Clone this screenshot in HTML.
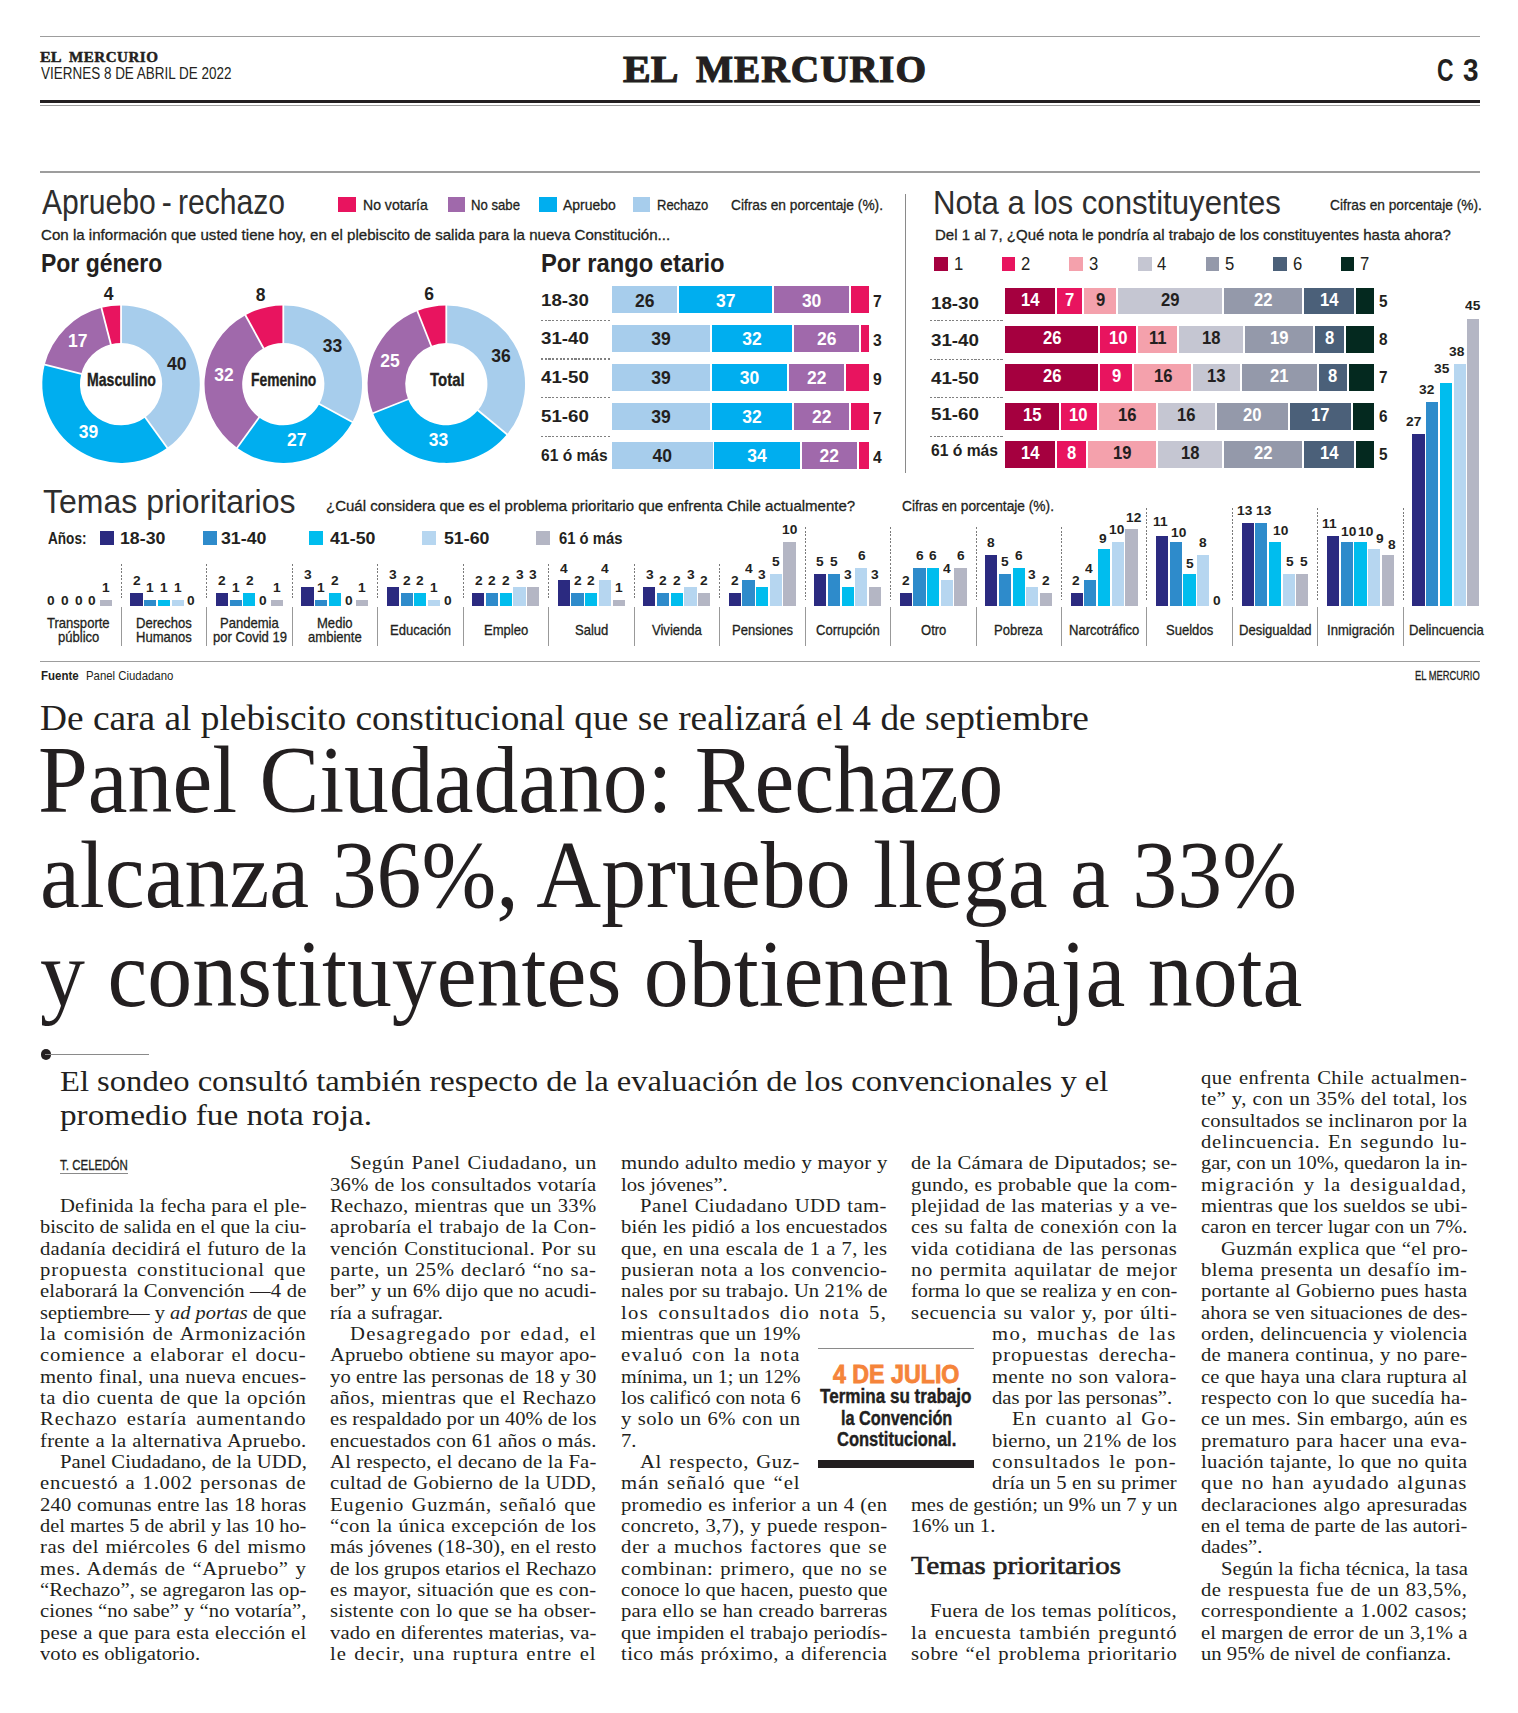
<!DOCTYPE html>
<html><head><meta charset="utf-8"><style>
html,body{margin:0;padding:0;background:#fff;}
body{width:1518px;height:1713px;position:relative;overflow:hidden;}
.t{position:absolute;white-space:nowrap;line-height:1;transform-origin:0 0;}
</style></head><body>
<div style="position:absolute;left:40.00px;top:35.90px;width:1440.00px;height:1.30px;background:#9d9d9d;"></div><div style="position:absolute;left:40.00px;top:100.00px;width:1440.00px;height:2.80px;background:#231f20;"></div><div style="position:absolute;left:40.00px;top:104.80px;width:1440.00px;height:1.30px;background:#9d9d9d;"></div><div style="position:absolute;left:40.55px;top:1049.25px;width:10.5px;height:10.5px;border-radius:50%;background:#231f20"></div><div style="position:absolute;left:45.00px;top:1054.00px;width:104.00px;height:1.00px;background:#8a8a8a;"></div><div style="position:absolute;left:60.00px;top:1173.30px;width:67.80px;height:1.00px;background:#8a8a8a;"></div><div style="position:absolute;left:818.30px;top:1348.00px;width:155.70px;height:1.00px;background:#8a8a8a;"></div><div style="position:absolute;left:818.30px;top:1460.10px;width:155.70px;height:7.90px;background:#231f20;"></div><div style="position:absolute;left:40.00px;top:171.30px;width:1440.00px;height:1.30px;background:#9d9d9d;"></div><div style="position:absolute;left:905.20px;top:194.00px;width:1.00px;height:279.00px;background:#8a8a8a;"></div><div style="position:absolute;left:338.30px;top:196.90px;width:17.40px;height:15.40px;background:#e8145f;"></div><div style="position:absolute;left:447.60px;top:196.90px;width:17.20px;height:15.40px;background:#a069ab;"></div><div style="position:absolute;left:539.00px;top:196.90px;width:17.70px;height:15.40px;background:#00aeef;"></div><div style="position:absolute;left:633.10px;top:196.90px;width:17.10px;height:15.40px;background:#a7cdec;"></div><svg style="position:absolute;left:0;top:0" width="1518" height="700"><path d="M121.05,305.40 A78.75,78.75 0 0 1 167.34,447.86 L145.21,417.40 A41.1,41.1 0 0 0 121.05,343.05 Z" fill="#a7cdec"/><path d="M167.34,447.86 A78.75,78.75 0 0 1 44.77,364.57 L81.24,373.93 A41.1,41.1 0 0 0 145.21,417.40 Z" fill="#00aeef"/><path d="M44.77,364.57 A78.75,78.75 0 0 1 101.47,307.87 L110.83,344.34 A41.1,41.1 0 0 0 81.24,373.93 Z" fill="#a069ab"/><path d="M101.47,307.87 A78.75,78.75 0 0 1 121.05,305.40 L121.05,343.05 A41.1,41.1 0 0 0 110.83,344.34 Z" fill="#e8145f"/><line x1="121.05" y1="347.16" x2="121.05" y2="304.40" stroke="#fff" stroke-width="1.8"/><line x1="142.79" y1="414.08" x2="167.93" y2="448.67" stroke="#fff" stroke-width="1.8"/><line x1="85.22" y1="374.95" x2="43.81" y2="364.32" stroke="#fff" stroke-width="1.8"/><line x1="111.85" y1="348.32" x2="101.22" y2="306.91" stroke="#fff" stroke-width="1.8"/><path d="M283.30,305.40 A78.75,78.75 0 0 1 352.31,422.09 L319.32,403.95 A41.1,41.1 0 0 0 283.30,343.05 Z" fill="#a7cdec"/><path d="M352.31,422.09 A78.75,78.75 0 0 1 237.01,447.86 L259.14,417.40 A41.1,41.1 0 0 0 319.32,403.95 Z" fill="#00aeef"/><path d="M237.01,447.86 A78.75,78.75 0 0 1 245.36,315.14 L263.50,348.13 A41.1,41.1 0 0 0 259.14,417.40 Z" fill="#a069ab"/><path d="M245.36,315.14 A78.75,78.75 0 0 1 283.30,305.40 L283.30,343.05 A41.1,41.1 0 0 0 263.50,348.13 Z" fill="#e8145f"/><line x1="283.30" y1="347.16" x2="283.30" y2="304.40" stroke="#fff" stroke-width="1.8"/><line x1="315.71" y1="401.97" x2="353.19" y2="422.57" stroke="#fff" stroke-width="1.8"/><line x1="261.56" y1="414.08" x2="236.42" y2="448.67" stroke="#fff" stroke-width="1.8"/><line x1="265.48" y1="351.74" x2="244.88" y2="314.26" stroke="#fff" stroke-width="1.8"/><path d="M446.30,305.40 A78.75,78.75 0 0 1 506.98,434.35 L477.97,410.35 A41.1,41.1 0 0 0 446.30,343.05 Z" fill="#a7cdec"/><path d="M506.98,434.35 A78.75,78.75 0 0 1 373.08,413.14 L408.09,399.28 A41.1,41.1 0 0 0 477.97,410.35 Z" fill="#00aeef"/><path d="M373.08,413.14 A78.75,78.75 0 0 1 417.31,310.93 L431.17,345.94 A41.1,41.1 0 0 0 408.09,399.28 Z" fill="#a069ab"/><path d="M417.31,310.93 A78.75,78.75 0 0 1 446.30,305.40 L446.30,343.05 A41.1,41.1 0 0 0 431.17,345.94 Z" fill="#e8145f"/><line x1="446.30" y1="347.16" x2="446.30" y2="304.40" stroke="#fff" stroke-width="1.8"/><line x1="474.80" y1="407.73" x2="507.75" y2="434.98" stroke="#fff" stroke-width="1.8"/><line x1="411.91" y1="397.77" x2="372.15" y2="413.51" stroke="#fff" stroke-width="1.8"/><line x1="432.68" y1="349.76" x2="416.94" y2="310.00" stroke="#fff" stroke-width="1.8"/></svg><div style="position:absolute;left:612.10px;top:286.40px;width:65.31px;height:27.00px;background:#a7cdec;"></div><div style="position:absolute;left:679.21px;top:286.40px;width:92.94px;height:27.00px;background:#00aeef;"></div><div style="position:absolute;left:773.96px;top:286.40px;width:75.36px;height:27.00px;background:#a069ab;"></div><div style="position:absolute;left:851.12px;top:286.40px;width:17.58px;height:27.00px;background:#e8145f;"></div><div style="position:absolute;left:612.10px;top:325.20px;width:97.97px;height:27.00px;background:#a7cdec;"></div><div style="position:absolute;left:711.87px;top:325.20px;width:80.38px;height:27.00px;background:#00aeef;"></div><div style="position:absolute;left:794.05px;top:325.20px;width:65.31px;height:27.00px;background:#a069ab;"></div><div style="position:absolute;left:861.16px;top:325.20px;width:7.54px;height:27.00px;background:#e8145f;"></div><div style="position:absolute;left:612.10px;top:364.00px;width:97.97px;height:27.00px;background:#a7cdec;"></div><div style="position:absolute;left:711.87px;top:364.00px;width:75.36px;height:27.00px;background:#00aeef;"></div><div style="position:absolute;left:789.03px;top:364.00px;width:55.26px;height:27.00px;background:#a069ab;"></div><div style="position:absolute;left:846.09px;top:364.00px;width:22.61px;height:27.00px;background:#e8145f;"></div><div style="position:absolute;left:612.10px;top:402.80px;width:97.97px;height:27.00px;background:#a7cdec;"></div><div style="position:absolute;left:711.87px;top:402.80px;width:80.38px;height:27.00px;background:#00aeef;"></div><div style="position:absolute;left:794.05px;top:402.80px;width:55.26px;height:27.00px;background:#a069ab;"></div><div style="position:absolute;left:851.12px;top:402.80px;width:17.58px;height:27.00px;background:#e8145f;"></div><div style="position:absolute;left:612.10px;top:441.60px;width:100.48px;height:27.00px;background:#a7cdec;"></div><div style="position:absolute;left:714.38px;top:441.60px;width:85.41px;height:27.00px;background:#00aeef;"></div><div style="position:absolute;left:801.59px;top:441.60px;width:55.26px;height:27.00px;background:#a069ab;"></div><div style="position:absolute;left:858.65px;top:441.60px;width:10.05px;height:27.00px;background:#e8145f;"></div><div style="position:absolute;left:541.3px;top:319.6px;width:69.3px;height:1.2px;background:repeating-linear-gradient(90deg,#808080 0 2.2px,transparent 2.2px 3.7px)"></div><div style="position:absolute;left:541.3px;top:358.4px;width:69.3px;height:1.2px;background:repeating-linear-gradient(90deg,#808080 0 2.2px,transparent 2.2px 3.7px)"></div><div style="position:absolute;left:541.3px;top:397.2px;width:69.3px;height:1.2px;background:repeating-linear-gradient(90deg,#808080 0 2.2px,transparent 2.2px 3.7px)"></div><div style="position:absolute;left:541.3px;top:436.0px;width:69.3px;height:1.2px;background:repeating-linear-gradient(90deg,#808080 0 2.2px,transparent 2.2px 3.7px)"></div><div style="position:absolute;left:934.20px;top:257.00px;width:13.60px;height:13.90px;background:#a5003f;"></div><div style="position:absolute;left:1001.60px;top:257.00px;width:13.60px;height:13.90px;background:#e8145f;"></div><div style="position:absolute;left:1069.20px;top:257.00px;width:13.60px;height:13.90px;background:#f4a1ac;"></div><div style="position:absolute;left:1138.20px;top:257.00px;width:13.60px;height:13.90px;background:#c5c6d2;"></div><div style="position:absolute;left:1205.50px;top:257.00px;width:13.60px;height:13.90px;background:#9499aa;"></div><div style="position:absolute;left:1273.20px;top:257.00px;width:13.60px;height:13.90px;background:#4b6079;"></div><div style="position:absolute;left:1340.60px;top:257.00px;width:13.60px;height:13.90px;background:#04291f;"></div><div style="position:absolute;left:1005.40px;top:287.70px;width:49.94px;height:26.70px;background:#a5003f;"></div><div style="position:absolute;left:1057.34px;top:287.70px;width:24.97px;height:26.70px;background:#e8145f;"></div><div style="position:absolute;left:1084.31px;top:287.70px;width:32.10px;height:26.70px;background:#f4a1ac;"></div><div style="position:absolute;left:1118.41px;top:287.70px;width:103.44px;height:26.70px;background:#c5c6d2;"></div><div style="position:absolute;left:1223.85px;top:287.70px;width:78.47px;height:26.70px;background:#9499aa;"></div><div style="position:absolute;left:1304.33px;top:287.70px;width:49.94px;height:26.70px;background:#4b6079;"></div><div style="position:absolute;left:1356.26px;top:287.70px;width:17.84px;height:26.70px;background:#04291f;"></div><div style="position:absolute;left:1005.40px;top:326.30px;width:92.74px;height:26.70px;background:#a5003f;"></div><div style="position:absolute;left:1100.14px;top:326.30px;width:35.67px;height:26.70px;background:#e8145f;"></div><div style="position:absolute;left:1137.81px;top:326.30px;width:39.24px;height:26.70px;background:#f4a1ac;"></div><div style="position:absolute;left:1179.05px;top:326.30px;width:64.21px;height:26.70px;background:#c5c6d2;"></div><div style="position:absolute;left:1245.25px;top:326.30px;width:67.77px;height:26.70px;background:#9499aa;"></div><div style="position:absolute;left:1315.03px;top:326.30px;width:28.54px;height:26.70px;background:#4b6079;"></div><div style="position:absolute;left:1345.56px;top:326.30px;width:28.54px;height:26.70px;background:#04291f;"></div><div style="position:absolute;left:1005.40px;top:364.20px;width:92.74px;height:26.70px;background:#a5003f;"></div><div style="position:absolute;left:1100.14px;top:364.20px;width:32.10px;height:26.70px;background:#e8145f;"></div><div style="position:absolute;left:1134.24px;top:364.20px;width:57.07px;height:26.70px;background:#f4a1ac;"></div><div style="position:absolute;left:1193.32px;top:364.20px;width:46.37px;height:26.70px;background:#c5c6d2;"></div><div style="position:absolute;left:1241.69px;top:364.20px;width:74.91px;height:26.70px;background:#9499aa;"></div><div style="position:absolute;left:1318.60px;top:364.20px;width:28.54px;height:26.70px;background:#4b6079;"></div><div style="position:absolute;left:1349.13px;top:364.20px;width:24.97px;height:26.70px;background:#04291f;"></div><div style="position:absolute;left:1005.40px;top:403.00px;width:53.50px;height:26.70px;background:#a5003f;"></div><div style="position:absolute;left:1060.90px;top:403.00px;width:35.67px;height:26.70px;background:#e8145f;"></div><div style="position:absolute;left:1098.58px;top:403.00px;width:57.07px;height:26.70px;background:#f4a1ac;"></div><div style="position:absolute;left:1157.65px;top:403.00px;width:57.07px;height:26.70px;background:#c5c6d2;"></div><div style="position:absolute;left:1216.72px;top:403.00px;width:71.34px;height:26.70px;background:#9499aa;"></div><div style="position:absolute;left:1290.06px;top:403.00px;width:60.64px;height:26.70px;background:#4b6079;"></div><div style="position:absolute;left:1352.70px;top:403.00px;width:21.40px;height:26.70px;background:#04291f;"></div><div style="position:absolute;left:1005.40px;top:440.90px;width:49.94px;height:26.70px;background:#a5003f;"></div><div style="position:absolute;left:1057.34px;top:440.90px;width:28.54px;height:26.70px;background:#e8145f;"></div><div style="position:absolute;left:1087.87px;top:440.90px;width:67.77px;height:26.70px;background:#f4a1ac;"></div><div style="position:absolute;left:1157.65px;top:440.90px;width:64.21px;height:26.70px;background:#c5c6d2;"></div><div style="position:absolute;left:1223.85px;top:440.90px;width:78.47px;height:26.70px;background:#9499aa;"></div><div style="position:absolute;left:1304.33px;top:440.90px;width:49.94px;height:26.70px;background:#4b6079;"></div><div style="position:absolute;left:1356.26px;top:440.90px;width:17.84px;height:26.70px;background:#04291f;"></div><div style="position:absolute;left:929.5px;top:319.6px;width:74.3px;height:1.2px;background:repeating-linear-gradient(90deg,#808080 0 2.2px,transparent 2.2px 3.7px)"></div><div style="position:absolute;left:929.5px;top:358.5px;width:74.3px;height:1.2px;background:repeating-linear-gradient(90deg,#808080 0 2.2px,transparent 2.2px 3.7px)"></div><div style="position:absolute;left:929.5px;top:397.2px;width:74.3px;height:1.2px;background:repeating-linear-gradient(90deg,#808080 0 2.2px,transparent 2.2px 3.7px)"></div><div style="position:absolute;left:929.5px;top:435.8px;width:74.3px;height:1.2px;background:repeating-linear-gradient(90deg,#808080 0 2.2px,transparent 2.2px 3.7px)"></div><div style="position:absolute;left:100.20px;top:531.10px;width:14.00px;height:13.80px;background:#2b2a80;"></div><div style="position:absolute;left:203.00px;top:531.10px;width:14.00px;height:13.80px;background:#2e8bcb;"></div><div style="position:absolute;left:309.30px;top:531.10px;width:14.00px;height:13.80px;background:#00bdee;"></div><div style="position:absolute;left:421.80px;top:531.10px;width:14.00px;height:13.80px;background:#b6d6f0;"></div><div style="position:absolute;left:536.30px;top:531.10px;width:14.00px;height:13.80px;background:#b4b6c4;"></div><div style="position:absolute;left:99.73px;top:599.62px;width:12.20px;height:6.38px;background:#b4b6c4;"></div><div style="position:absolute;left:130.40px;top:593.24px;width:12.20px;height:12.76px;background:#2b2a80;"></div><div style="position:absolute;left:144.10px;top:599.62px;width:12.20px;height:6.38px;background:#2e8bcb;"></div><div style="position:absolute;left:157.80px;top:599.62px;width:12.20px;height:6.38px;background:#00bdee;"></div><div style="position:absolute;left:171.50px;top:599.62px;width:12.20px;height:6.38px;background:#b6d6f0;"></div><div style="position:absolute;left:121px;top:564px;width:1px;height:36px;background:repeating-linear-gradient(180deg,#7a7a7a 0 2px,transparent 2px 3.6px)"></div><div style="position:absolute;left:121.00px;top:607.00px;width:1.00px;height:39.00px;background:#999;"></div><div style="position:absolute;left:215.87px;top:593.24px;width:12.20px;height:12.76px;background:#2b2a80;"></div><div style="position:absolute;left:229.57px;top:599.62px;width:12.20px;height:6.38px;background:#2e8bcb;"></div><div style="position:absolute;left:243.27px;top:593.24px;width:12.20px;height:12.76px;background:#00bdee;"></div><div style="position:absolute;left:270.67px;top:599.62px;width:12.20px;height:6.38px;background:#b4b6c4;"></div><div style="position:absolute;left:206px;top:564px;width:1px;height:36px;background:repeating-linear-gradient(180deg,#7a7a7a 0 2px,transparent 2px 3.6px)"></div><div style="position:absolute;left:206.00px;top:607.00px;width:1.00px;height:39.00px;background:#999;"></div><div style="position:absolute;left:301.34px;top:586.86px;width:12.20px;height:19.14px;background:#2b2a80;"></div><div style="position:absolute;left:315.04px;top:599.62px;width:12.20px;height:6.38px;background:#2e8bcb;"></div><div style="position:absolute;left:328.74px;top:593.24px;width:12.20px;height:12.76px;background:#00bdee;"></div><div style="position:absolute;left:356.14px;top:599.62px;width:12.20px;height:6.38px;background:#b4b6c4;"></div><div style="position:absolute;left:292px;top:564px;width:1px;height:36px;background:repeating-linear-gradient(180deg,#7a7a7a 0 2px,transparent 2px 3.6px)"></div><div style="position:absolute;left:292.00px;top:607.00px;width:1.00px;height:39.00px;background:#999;"></div><div style="position:absolute;left:386.81px;top:586.86px;width:12.20px;height:19.14px;background:#2b2a80;"></div><div style="position:absolute;left:400.51px;top:593.24px;width:12.20px;height:12.76px;background:#2e8bcb;"></div><div style="position:absolute;left:414.21px;top:593.24px;width:12.20px;height:12.76px;background:#00bdee;"></div><div style="position:absolute;left:427.91px;top:599.62px;width:12.20px;height:6.38px;background:#b6d6f0;"></div><div style="position:absolute;left:377px;top:564px;width:1px;height:36px;background:repeating-linear-gradient(180deg,#7a7a7a 0 2px,transparent 2px 3.6px)"></div><div style="position:absolute;left:377.00px;top:607.00px;width:1.00px;height:39.00px;background:#999;"></div><div style="position:absolute;left:472.28px;top:593.24px;width:12.20px;height:12.76px;background:#2b2a80;"></div><div style="position:absolute;left:485.98px;top:593.24px;width:12.20px;height:12.76px;background:#2e8bcb;"></div><div style="position:absolute;left:499.68px;top:593.24px;width:12.20px;height:12.76px;background:#00bdee;"></div><div style="position:absolute;left:513.38px;top:586.86px;width:12.20px;height:19.14px;background:#b6d6f0;"></div><div style="position:absolute;left:527.08px;top:586.86px;width:12.20px;height:19.14px;background:#b4b6c4;"></div><div style="position:absolute;left:463px;top:564px;width:1px;height:36px;background:repeating-linear-gradient(180deg,#7a7a7a 0 2px,transparent 2px 3.6px)"></div><div style="position:absolute;left:463.00px;top:607.00px;width:1.00px;height:39.00px;background:#999;"></div><div style="position:absolute;left:557.75px;top:580.48px;width:12.20px;height:25.52px;background:#2b2a80;"></div><div style="position:absolute;left:571.45px;top:593.24px;width:12.20px;height:12.76px;background:#2e8bcb;"></div><div style="position:absolute;left:585.15px;top:593.24px;width:12.20px;height:12.76px;background:#00bdee;"></div><div style="position:absolute;left:598.85px;top:580.48px;width:12.20px;height:25.52px;background:#b6d6f0;"></div><div style="position:absolute;left:612.55px;top:599.62px;width:12.20px;height:6.38px;background:#b4b6c4;"></div><div style="position:absolute;left:548px;top:564px;width:1px;height:36px;background:repeating-linear-gradient(180deg,#7a7a7a 0 2px,transparent 2px 3.6px)"></div><div style="position:absolute;left:548.00px;top:607.00px;width:1.00px;height:39.00px;background:#999;"></div><div style="position:absolute;left:643.22px;top:586.86px;width:12.20px;height:19.14px;background:#2b2a80;"></div><div style="position:absolute;left:656.92px;top:593.24px;width:12.20px;height:12.76px;background:#2e8bcb;"></div><div style="position:absolute;left:670.62px;top:593.24px;width:12.20px;height:12.76px;background:#00bdee;"></div><div style="position:absolute;left:684.32px;top:586.86px;width:12.20px;height:19.14px;background:#b6d6f0;"></div><div style="position:absolute;left:698.02px;top:593.24px;width:12.20px;height:12.76px;background:#b4b6c4;"></div><div style="position:absolute;left:634px;top:564px;width:1px;height:36px;background:repeating-linear-gradient(180deg,#7a7a7a 0 2px,transparent 2px 3.6px)"></div><div style="position:absolute;left:634.00px;top:607.00px;width:1.00px;height:39.00px;background:#999;"></div><div style="position:absolute;left:728.69px;top:593.24px;width:12.20px;height:12.76px;background:#2b2a80;"></div><div style="position:absolute;left:742.39px;top:580.48px;width:12.20px;height:25.52px;background:#2e8bcb;"></div><div style="position:absolute;left:756.09px;top:586.86px;width:12.20px;height:19.14px;background:#00bdee;"></div><div style="position:absolute;left:769.79px;top:574.10px;width:12.20px;height:31.90px;background:#b6d6f0;"></div><div style="position:absolute;left:783.49px;top:542.20px;width:12.20px;height:63.80px;background:#b4b6c4;"></div><div style="position:absolute;left:719px;top:564px;width:1px;height:36px;background:repeating-linear-gradient(180deg,#7a7a7a 0 2px,transparent 2px 3.6px)"></div><div style="position:absolute;left:719.00px;top:607.00px;width:1.00px;height:39.00px;background:#999;"></div><div style="position:absolute;left:814.16px;top:574.10px;width:12.20px;height:31.90px;background:#2b2a80;"></div><div style="position:absolute;left:827.86px;top:574.10px;width:12.20px;height:31.90px;background:#2e8bcb;"></div><div style="position:absolute;left:841.56px;top:586.86px;width:12.20px;height:19.14px;background:#00bdee;"></div><div style="position:absolute;left:855.26px;top:567.72px;width:12.20px;height:38.28px;background:#b6d6f0;"></div><div style="position:absolute;left:868.96px;top:586.86px;width:12.20px;height:19.14px;background:#b4b6c4;"></div><div style="position:absolute;left:805px;top:527px;width:1px;height:73px;background:repeating-linear-gradient(180deg,#7a7a7a 0 2px,transparent 2px 3.6px)"></div><div style="position:absolute;left:805.00px;top:607.00px;width:1.00px;height:39.00px;background:#999;"></div><div style="position:absolute;left:899.63px;top:593.24px;width:12.20px;height:12.76px;background:#2b2a80;"></div><div style="position:absolute;left:913.33px;top:567.72px;width:12.20px;height:38.28px;background:#2e8bcb;"></div><div style="position:absolute;left:927.03px;top:567.72px;width:12.20px;height:38.28px;background:#00bdee;"></div><div style="position:absolute;left:940.73px;top:580.48px;width:12.20px;height:25.52px;background:#b6d6f0;"></div><div style="position:absolute;left:954.43px;top:567.72px;width:12.20px;height:38.28px;background:#b4b6c4;"></div><div style="position:absolute;left:890px;top:527px;width:1px;height:73px;background:repeating-linear-gradient(180deg,#7a7a7a 0 2px,transparent 2px 3.6px)"></div><div style="position:absolute;left:890.00px;top:607.00px;width:1.00px;height:39.00px;background:#999;"></div><div style="position:absolute;left:985.10px;top:554.96px;width:12.20px;height:51.04px;background:#2b2a80;"></div><div style="position:absolute;left:998.80px;top:574.10px;width:12.20px;height:31.90px;background:#2e8bcb;"></div><div style="position:absolute;left:1012.50px;top:567.72px;width:12.20px;height:38.28px;background:#00bdee;"></div><div style="position:absolute;left:1026.20px;top:586.86px;width:12.20px;height:19.14px;background:#b6d6f0;"></div><div style="position:absolute;left:1039.90px;top:593.24px;width:12.20px;height:12.76px;background:#b4b6c4;"></div><div style="position:absolute;left:976px;top:527px;width:1px;height:73px;background:repeating-linear-gradient(180deg,#7a7a7a 0 2px,transparent 2px 3.6px)"></div><div style="position:absolute;left:976.00px;top:607.00px;width:1.00px;height:39.00px;background:#999;"></div><div style="position:absolute;left:1070.57px;top:593.24px;width:12.20px;height:12.76px;background:#2b2a80;"></div><div style="position:absolute;left:1084.27px;top:580.48px;width:12.20px;height:25.52px;background:#2e8bcb;"></div><div style="position:absolute;left:1097.97px;top:548.58px;width:12.20px;height:57.42px;background:#00bdee;"></div><div style="position:absolute;left:1111.67px;top:542.20px;width:12.20px;height:63.80px;background:#b6d6f0;"></div><div style="position:absolute;left:1125.37px;top:529.44px;width:12.20px;height:76.56px;background:#b4b6c4;"></div><div style="position:absolute;left:1061px;top:527px;width:1px;height:73px;background:repeating-linear-gradient(180deg,#7a7a7a 0 2px,transparent 2px 3.6px)"></div><div style="position:absolute;left:1061.00px;top:607.00px;width:1.00px;height:39.00px;background:#999;"></div><div style="position:absolute;left:1156.04px;top:535.82px;width:12.20px;height:70.18px;background:#2b2a80;"></div><div style="position:absolute;left:1169.74px;top:542.20px;width:12.20px;height:63.80px;background:#2e8bcb;"></div><div style="position:absolute;left:1183.44px;top:574.10px;width:12.20px;height:31.90px;background:#00bdee;"></div><div style="position:absolute;left:1197.14px;top:554.96px;width:12.20px;height:51.04px;background:#b6d6f0;"></div><div style="position:absolute;left:1146px;top:508px;width:1px;height:92px;background:repeating-linear-gradient(180deg,#7a7a7a 0 2px,transparent 2px 3.6px)"></div><div style="position:absolute;left:1146.00px;top:607.00px;width:1.00px;height:39.00px;background:#999;"></div><div style="position:absolute;left:1241.51px;top:523.06px;width:12.20px;height:82.94px;background:#2b2a80;"></div><div style="position:absolute;left:1255.21px;top:523.06px;width:12.20px;height:82.94px;background:#2e8bcb;"></div><div style="position:absolute;left:1268.91px;top:542.20px;width:12.20px;height:63.80px;background:#00bdee;"></div><div style="position:absolute;left:1282.61px;top:574.10px;width:12.20px;height:31.90px;background:#b6d6f0;"></div><div style="position:absolute;left:1296.31px;top:574.10px;width:12.20px;height:31.90px;background:#b4b6c4;"></div><div style="position:absolute;left:1232px;top:508px;width:1px;height:92px;background:repeating-linear-gradient(180deg,#7a7a7a 0 2px,transparent 2px 3.6px)"></div><div style="position:absolute;left:1232.00px;top:607.00px;width:1.00px;height:39.00px;background:#999;"></div><div style="position:absolute;left:1326.98px;top:535.82px;width:12.20px;height:70.18px;background:#2b2a80;"></div><div style="position:absolute;left:1340.68px;top:542.20px;width:12.20px;height:63.80px;background:#2e8bcb;"></div><div style="position:absolute;left:1354.38px;top:542.20px;width:12.20px;height:63.80px;background:#00bdee;"></div><div style="position:absolute;left:1368.08px;top:548.58px;width:12.20px;height:57.42px;background:#b6d6f0;"></div><div style="position:absolute;left:1381.78px;top:554.96px;width:12.20px;height:51.04px;background:#b4b6c4;"></div><div style="position:absolute;left:1317px;top:508px;width:1px;height:92px;background:repeating-linear-gradient(180deg,#7a7a7a 0 2px,transparent 2px 3.6px)"></div><div style="position:absolute;left:1317.00px;top:607.00px;width:1.00px;height:39.00px;background:#999;"></div><div style="position:absolute;left:1412.45px;top:433.74px;width:12.20px;height:172.26px;background:#2b2a80;"></div><div style="position:absolute;left:1426.15px;top:401.84px;width:12.20px;height:204.16px;background:#2e8bcb;"></div><div style="position:absolute;left:1439.85px;top:382.70px;width:12.20px;height:223.30px;background:#00bdee;"></div><div style="position:absolute;left:1453.55px;top:363.56px;width:12.20px;height:242.44px;background:#b6d6f0;"></div><div style="position:absolute;left:1467.25px;top:318.90px;width:12.20px;height:287.10px;background:#b4b6c4;"></div><div style="position:absolute;left:1403px;top:508px;width:1px;height:92px;background:repeating-linear-gradient(180deg,#7a7a7a 0 2px,transparent 2px 3.6px)"></div><div style="position:absolute;left:1403.00px;top:607.00px;width:1.00px;height:39.00px;background:#999;"></div><div style="position:absolute;left:40.00px;top:661.00px;width:1440.00px;height:1.30px;background:#9d9d9d;"></div>
<div class="t" style="left:40.30px;top:50.01px;font-family:'Liberation Serif', serif;font-size:14.2px;font-weight:700;color:#231f20;-webkit-text-stroke:0.45px #231f20;transform:scaleX(1.1353);">EL</div><div class="t" style="left:68.50px;top:50.01px;font-family:'Liberation Serif', serif;font-size:14.2px;font-weight:700;color:#231f20;-webkit-text-stroke:0.45px #231f20;letter-spacing:0.5px;transform:scaleX(1.0603);">MERCURIO</div><div class="t" style="left:41.00px;top:65.85px;font-family:'Liberation Sans', sans-serif;font-size:16px;font-weight:400;color:#231f20;transform:scaleX(0.8422);">VIERNES 8 DE ABRIL DE 2022</div><div class="t" style="left:623.00px;top:50.52px;font-family:'Liberation Serif', serif;font-size:37px;font-weight:700;color:#231f20;-webkit-text-stroke:1.1px #231f20;transform:scaleX(1.1224);">EL</div><div class="t" style="left:695.70px;top:50.52px;font-family:'Liberation Serif', serif;font-size:37px;font-weight:700;color:#231f20;-webkit-text-stroke:1.1px #231f20;letter-spacing:1px;transform:scaleX(1.0612);">MERCURIO</div><div class="t" style="left:1437.20px;top:53.61px;font-family:'Liberation Sans', sans-serif;font-size:32px;font-weight:700;color:#231f20;transform:scaleX(0.7140);">C</div><div class="t" style="left:1462.90px;top:53.61px;font-family:'Liberation Sans', sans-serif;font-size:32px;font-weight:700;color:#231f20;transform:scaleX(0.8709);">3</div><div class="t" style="left:40.00px;top:700.35px;font-family:'Liberation Serif', serif;font-size:36px;font-weight:400;color:#231f20;transform:scaleX(1.0380);">De cara al plebiscito constitucional que se realizará el 4 de septiembre</div><div class="t" style="left:38.40px;top:733.35px;font-family:'Liberation Serif', serif;font-size:95px;font-weight:400;color:#231f20;transform:scaleX(0.9430);">Panel Ciudadano: Rechazo</div><div class="t" style="left:39.60px;top:828.45px;font-family:'Liberation Serif', serif;font-size:95px;font-weight:400;color:#231f20;transform:scaleX(0.9455);">alcanza 36%, Apruebo llega a 33%</div><div class="t" style="left:40.00px;top:926.65px;font-family:'Liberation Serif', serif;font-size:95px;font-weight:400;color:#231f20;transform:scaleX(0.9457);">y constituyentes obtienen baja nota</div><div class="t" style="left:59.60px;top:1067.15px;font-family:'Liberation Serif', serif;font-size:29.2px;font-weight:400;color:#231f20;transform:scaleX(1.1170);">El sondeo consultó también respecto de la evaluación de los convencionales y el</div><div class="t" style="left:59.80px;top:1101.35px;font-family:'Liberation Serif', serif;font-size:29.2px;font-weight:400;color:#231f20;transform:scaleX(1.1389);">promedio fue nota roja.</div><div class="t" style="left:60.00px;top:1157.69px;font-family:'Liberation Sans', sans-serif;font-size:14.3px;font-weight:400;color:#231f20;-webkit-text-stroke:0.3px #231f20;transform:scaleX(0.8050);">T. CELEDÓN</div><div class="t" style="left:59.50px;top:1196.93px;font-family:'Liberation Serif', serif;font-size:18.8px;font-weight:400;color:#231f20;letter-spacing:0.160px;word-spacing:0.239px;transform:scaleX(1.1000);">Definida la fecha para el ple-</div><div class="t" style="left:40.00px;top:1218.27px;font-family:'Liberation Serif', serif;font-size:18.8px;font-weight:400;color:#231f20;transform:scaleX(1.0845);">biscito de salida en el que la ciu-</div><div class="t" style="left:40.00px;top:1239.61px;font-family:'Liberation Serif', serif;font-size:18.8px;font-weight:400;color:#231f20;letter-spacing:0.227px;word-spacing:0.364px;transform:scaleX(1.1000);">dadanía decidirá el futuro de la</div><div class="t" style="left:40.00px;top:1260.95px;font-family:'Liberation Serif', serif;font-size:18.8px;font-weight:400;color:#231f20;letter-spacing:0.780px;word-spacing:2.729px;transform:scaleX(1.1000);">propuesta constitucional que</div><div class="t" style="left:40.00px;top:1282.29px;font-family:'Liberation Serif', serif;font-size:18.8px;font-weight:400;color:#231f20;letter-spacing:0.092px;word-spacing:0.166px;transform:scaleX(1.1000);">elaborará la Convención —4 de</div><div class="t" style="left:40.00px;top:1303.63px;font-family:'Liberation Serif', serif;font-size:18.8px;font-weight:400;color:#231f20;transform:scaleX(1.0842);">septiembre— y <i>ad portas</i> de que</div><div class="t" style="left:40.00px;top:1324.97px;font-family:'Liberation Serif', serif;font-size:18.8px;font-weight:400;color:#231f20;letter-spacing:0.639px;word-spacing:1.437px;transform:scaleX(1.1000);">la comisión de Armonización</div><div class="t" style="left:40.00px;top:1346.31px;font-family:'Liberation Serif', serif;font-size:18.8px;font-weight:400;color:#231f20;letter-spacing:0.722px;word-spacing:1.264px;transform:scaleX(1.1000);">comience a elaborar el docu-</div><div class="t" style="left:40.00px;top:1367.65px;font-family:'Liberation Serif', serif;font-size:18.8px;font-weight:400;color:#231f20;letter-spacing:0.214px;word-spacing:0.401px;transform:scaleX(1.1000);">mento final, una nueva encues-</div><div class="t" style="left:40.00px;top:1388.99px;font-family:'Liberation Serif', serif;font-size:18.8px;font-weight:400;color:#231f20;letter-spacing:0.478px;word-spacing:0.598px;transform:scaleX(1.1000);">ta dio cuenta de que la opción</div><div class="t" style="left:40.00px;top:1410.32px;font-family:'Liberation Serif', serif;font-size:18.8px;font-weight:400;color:#231f20;letter-spacing:0.841px;word-spacing:2.734px;transform:scaleX(1.1000);">Rechazo estaría aumentando</div><div class="t" style="left:40.00px;top:1431.66px;font-family:'Liberation Serif', serif;font-size:18.8px;font-weight:400;color:#231f20;letter-spacing:0.227px;word-spacing:0.454px;transform:scaleX(1.1000);">frente a la alternativa Apruebo.</div><div class="t" style="left:59.50px;top:1453.00px;font-family:'Liberation Serif', serif;font-size:18.8px;font-weight:400;color:#231f20;letter-spacing:0.036px;word-spacing:0.060px;transform:scaleX(1.1000);">Panel Ciudadano, de la UDD,</div><div class="t" style="left:40.00px;top:1474.34px;font-family:'Liberation Serif', serif;font-size:18.8px;font-weight:400;color:#231f20;letter-spacing:0.676px;word-spacing:1.183px;transform:scaleX(1.1000);">encuestó a 1.002 personas de</div><div class="t" style="left:40.00px;top:1495.68px;font-family:'Liberation Serif', serif;font-size:18.8px;font-weight:400;color:#231f20;letter-spacing:0.157px;word-spacing:0.236px;transform:scaleX(1.1000);">240 comunas entre las 18 horas</div><div class="t" style="left:40.00px;top:1517.02px;font-family:'Liberation Serif', serif;font-size:18.8px;font-weight:400;color:#231f20;transform:scaleX(1.0821);">del martes 5 de abril y las 10 ho-</div><div class="t" style="left:40.00px;top:1538.36px;font-family:'Liberation Serif', serif;font-size:18.8px;font-weight:400;color:#231f20;letter-spacing:0.479px;word-spacing:0.695px;transform:scaleX(1.1000);">ras del miércoles 6 del mismo</div><div class="t" style="left:40.00px;top:1559.70px;font-family:'Liberation Serif', serif;font-size:18.8px;font-weight:400;color:#231f20;letter-spacing:0.567px;word-spacing:0.922px;transform:scaleX(1.1000);">mes. Además de “Apruebo” y</div><div class="t" style="left:40.00px;top:1581.04px;font-family:'Liberation Serif', serif;font-size:18.8px;font-weight:400;color:#231f20;letter-spacing:0.019px;word-spacing:0.037px;transform:scaleX(1.1000);">“Rechazo”, se agregaron las op-</div><div class="t" style="left:40.00px;top:1602.38px;font-family:'Liberation Serif', serif;font-size:18.8px;font-weight:400;color:#231f20;letter-spacing:0.005px;word-spacing:0.009px;transform:scaleX(1.1000);">ciones “no sabe” y “no votaría”,</div><div class="t" style="left:40.00px;top:1623.71px;font-family:'Liberation Serif', serif;font-size:18.8px;font-weight:400;color:#231f20;letter-spacing:0.189px;word-spacing:0.251px;transform:scaleX(1.1000);">pese a que para esta elección el</div><div class="t" style="left:40.00px;top:1645.05px;font-family:'Liberation Serif', serif;font-size:18.8px;font-weight:400;color:#231f20;transform:scaleX(1.1000);">voto es obligatorio.</div><div class="t" style="left:349.80px;top:1154.26px;font-family:'Liberation Serif', serif;font-size:18.8px;font-weight:400;color:#231f20;letter-spacing:0.539px;word-spacing:1.122px;transform:scaleX(1.1000);">Según Panel Ciudadano, un</div><div class="t" style="left:330.30px;top:1175.60px;font-family:'Liberation Serif', serif;font-size:18.8px;font-weight:400;color:#231f20;letter-spacing:0.227px;word-spacing:0.425px;transform:scaleX(1.1000);">36% de los consultados votaría</div><div class="t" style="left:330.30px;top:1196.93px;font-family:'Liberation Serif', serif;font-size:18.8px;font-weight:400;color:#231f20;letter-spacing:0.259px;word-spacing:0.453px;transform:scaleX(1.1000);">Rechazo, mientras que un 33%</div><div class="t" style="left:330.30px;top:1218.27px;font-family:'Liberation Serif', serif;font-size:18.8px;font-weight:400;color:#231f20;letter-spacing:0.342px;word-spacing:0.530px;transform:scaleX(1.1000);">aprobaría el trabajo de la Con-</div><div class="t" style="left:330.30px;top:1239.61px;font-family:'Liberation Serif', serif;font-size:18.8px;font-weight:400;color:#231f20;letter-spacing:0.309px;word-spacing:0.774px;transform:scaleX(1.1000);">vención Constitucional. Por su</div><div class="t" style="left:330.30px;top:1260.95px;font-family:'Liberation Serif', serif;font-size:18.8px;font-weight:400;color:#231f20;letter-spacing:0.524px;word-spacing:0.759px;transform:scaleX(1.1000);">parte, un 25% declaró “no sa-</div><div class="t" style="left:330.30px;top:1282.29px;font-family:'Liberation Serif', serif;font-size:18.8px;font-weight:400;color:#231f20;letter-spacing:0.045px;word-spacing:0.050px;transform:scaleX(1.1000);">ber” y un 6% dijo que no acudi-</div><div class="t" style="left:330.30px;top:1303.63px;font-family:'Liberation Serif', serif;font-size:18.8px;font-weight:400;color:#231f20;transform:scaleX(1.1000);">ría a sufragar.</div><div class="t" style="left:349.80px;top:1324.97px;font-family:'Liberation Serif', serif;font-size:18.8px;font-weight:400;color:#231f20;letter-spacing:1.120px;word-spacing:2.240px;transform:scaleX(1.1000);">Desagregado por edad, el</div><div class="t" style="left:330.30px;top:1346.31px;font-family:'Liberation Serif', serif;font-size:18.8px;font-weight:400;color:#231f20;letter-spacing:0.120px;word-spacing:0.217px;transform:scaleX(1.1000);">Apruebo obtiene su mayor apo-</div><div class="t" style="left:330.30px;top:1367.65px;font-family:'Liberation Serif', serif;font-size:18.8px;font-weight:400;color:#231f20;letter-spacing:0.043px;word-spacing:0.049px;transform:scaleX(1.1000);">yo entre las personas de 18 y 30</div><div class="t" style="left:330.30px;top:1388.99px;font-family:'Liberation Serif', serif;font-size:18.8px;font-weight:400;color:#231f20;letter-spacing:0.394px;word-spacing:0.714px;transform:scaleX(1.1000);">años, mientras que el Rechazo</div><div class="t" style="left:330.30px;top:1410.32px;font-family:'Liberation Serif', serif;font-size:18.8px;font-weight:400;color:#231f20;transform:scaleX(1.0960);">es respaldado por un 40% de los</div><div class="t" style="left:330.30px;top:1431.66px;font-family:'Liberation Serif', serif;font-size:18.8px;font-weight:400;color:#231f20;letter-spacing:0.088px;word-spacing:0.132px;transform:scaleX(1.1000);">encuestados con 61 años o más.</div><div class="t" style="left:330.30px;top:1453.00px;font-family:'Liberation Serif', serif;font-size:18.8px;font-weight:400;color:#231f20;letter-spacing:0.123px;word-spacing:0.163px;transform:scaleX(1.1000);">Al respecto, el decano de la Fa-</div><div class="t" style="left:330.30px;top:1474.34px;font-family:'Liberation Serif', serif;font-size:18.8px;font-weight:400;color:#231f20;letter-spacing:0.206px;word-spacing:0.299px;transform:scaleX(1.1000);">cultad de Gobierno de la UDD,</div><div class="t" style="left:330.30px;top:1495.68px;font-family:'Liberation Serif', serif;font-size:18.8px;font-weight:400;color:#231f20;letter-spacing:0.680px;word-spacing:1.473px;transform:scaleX(1.1000);">Eugenio Guzmán, señaló que</div><div class="t" style="left:330.30px;top:1517.02px;font-family:'Liberation Serif', serif;font-size:18.8px;font-weight:400;color:#231f20;letter-spacing:0.353px;word-spacing:0.530px;transform:scaleX(1.1000);">“con la única excepción de los</div><div class="t" style="left:330.30px;top:1538.36px;font-family:'Liberation Serif', serif;font-size:18.8px;font-weight:400;color:#231f20;letter-spacing:0.056px;word-spacing:0.090px;transform:scaleX(1.1000);">más jóvenes (18-30), en el resto</div><div class="t" style="left:330.30px;top:1559.70px;font-family:'Liberation Serif', serif;font-size:18.8px;font-weight:400;color:#231f20;transform:scaleX(1.0985);">de los grupos etarios el Rechazo</div><div class="t" style="left:330.30px;top:1581.04px;font-family:'Liberation Serif', serif;font-size:18.8px;font-weight:400;color:#231f20;letter-spacing:0.185px;word-spacing:0.287px;transform:scaleX(1.1000);">es mayor, situación que es con-</div><div class="t" style="left:330.30px;top:1602.38px;font-family:'Liberation Serif', serif;font-size:18.8px;font-weight:400;color:#231f20;letter-spacing:0.223px;word-spacing:0.297px;transform:scaleX(1.1000);">sistente con lo que se ha obser-</div><div class="t" style="left:330.30px;top:1623.71px;font-family:'Liberation Serif', serif;font-size:18.8px;font-weight:400;color:#231f20;letter-spacing:0.071px;word-spacing:0.141px;transform:scaleX(1.1000);">vado en diferentes materias, va-</div><div class="t" style="left:330.30px;top:1645.05px;font-family:'Liberation Serif', serif;font-size:18.8px;font-weight:400;color:#231f20;letter-spacing:0.833px;word-spacing:1.249px;transform:scaleX(1.1000);">le decir, una ruptura entre el</div><div class="t" style="left:620.60px;top:1154.26px;font-family:'Liberation Serif', serif;font-size:18.8px;font-weight:400;color:#231f20;letter-spacing:0.168px;word-spacing:0.235px;transform:scaleX(1.1000);">mundo adulto medio y mayor y</div><div class="t" style="left:620.60px;top:1175.60px;font-family:'Liberation Serif', serif;font-size:18.8px;font-weight:400;color:#231f20;transform:scaleX(1.1000);">los jóvenes”.</div><div class="t" style="left:640.10px;top:1196.93px;font-family:'Liberation Serif', serif;font-size:18.8px;font-weight:400;color:#231f20;letter-spacing:0.405px;word-spacing:0.811px;transform:scaleX(1.1000);">Panel Ciudadano UDD tam-</div><div class="t" style="left:620.60px;top:1218.27px;font-family:'Liberation Serif', serif;font-size:18.8px;font-weight:400;color:#231f20;letter-spacing:0.148px;word-spacing:0.236px;transform:scaleX(1.1000);">bién les pidió a los encuestados</div><div class="t" style="left:620.60px;top:1239.61px;font-family:'Liberation Serif', serif;font-size:18.8px;font-weight:400;color:#231f20;letter-spacing:0.292px;word-spacing:0.292px;transform:scaleX(1.1000);">que, en una escala de 1 a 7, les</div><div class="t" style="left:620.60px;top:1260.95px;font-family:'Liberation Serif', serif;font-size:18.8px;font-weight:400;color:#231f20;letter-spacing:0.367px;word-spacing:0.687px;transform:scaleX(1.1000);">pusieran nota a los convencio-</div><div class="t" style="left:620.60px;top:1282.29px;font-family:'Liberation Serif', serif;font-size:18.8px;font-weight:400;color:#231f20;letter-spacing:0.045px;word-spacing:0.058px;transform:scaleX(1.1000);">nales por su trabajo. Un 21% de</div><div class="t" style="left:620.60px;top:1303.63px;font-family:'Liberation Serif', serif;font-size:18.8px;font-weight:400;color:#231f20;letter-spacing:1.255px;word-spacing:2.118px;transform:scaleX(1.1000);">los consultados dio nota 5,</div><div class="t" style="left:620.60px;top:1324.97px;font-family:'Liberation Serif', serif;font-size:18.8px;font-weight:400;color:#231f20;letter-spacing:0.176px;word-spacing:0.279px;transform:scaleX(1.1000);">mientras que un 19%</div><div class="t" style="left:620.60px;top:1346.31px;font-family:'Liberation Serif', serif;font-size:18.8px;font-weight:400;color:#231f20;letter-spacing:1.161px;word-spacing:1.741px;transform:scaleX(1.1000);">evaluó con la nota</div><div class="t" style="left:620.60px;top:1367.65px;font-family:'Liberation Serif', serif;font-size:18.8px;font-weight:400;color:#231f20;transform:scaleX(1.0724);">mínima, un 1; un 12%</div><div class="t" style="left:620.60px;top:1388.99px;font-family:'Liberation Serif', serif;font-size:18.8px;font-weight:400;color:#231f20;transform:scaleX(1.0828);">los calificó con nota 6</div><div class="t" style="left:620.60px;top:1410.32px;font-family:'Liberation Serif', serif;font-size:18.8px;font-weight:400;color:#231f20;letter-spacing:0.394px;word-spacing:0.375px;transform:scaleX(1.1000);">y solo un 6% con un</div><div class="t" style="left:620.60px;top:1431.66px;font-family:'Liberation Serif', serif;font-size:18.8px;font-weight:400;color:#231f20;transform:scaleX(1.1000);">7.</div><div class="t" style="left:640.10px;top:1453.00px;font-family:'Liberation Serif', serif;font-size:18.8px;font-weight:400;color:#231f20;letter-spacing:0.591px;word-spacing:1.256px;transform:scaleX(1.1000);">Al respecto, Guz-</div><div class="t" style="left:620.60px;top:1474.34px;font-family:'Liberation Serif', serif;font-size:18.8px;font-weight:400;color:#231f20;letter-spacing:0.882px;word-spacing:1.323px;transform:scaleX(1.1000);">mán señaló que “el</div><div class="t" style="left:620.60px;top:1495.68px;font-family:'Liberation Serif', serif;font-size:18.8px;font-weight:400;color:#231f20;letter-spacing:0.247px;word-spacing:0.319px;transform:scaleX(1.1000);">promedio es inferior a un 4 (en</div><div class="t" style="left:620.60px;top:1517.02px;font-family:'Liberation Serif', serif;font-size:18.8px;font-weight:400;color:#231f20;letter-spacing:0.234px;word-spacing:0.453px;transform:scaleX(1.1000);">concreto, 3,7), y puede respon-</div><div class="t" style="left:620.60px;top:1538.36px;font-family:'Liberation Serif', serif;font-size:18.8px;font-weight:400;color:#231f20;letter-spacing:0.736px;word-spacing:1.030px;transform:scaleX(1.1000);">der a muchos factores que se</div><div class="t" style="left:620.60px;top:1559.70px;font-family:'Liberation Serif', serif;font-size:18.8px;font-weight:400;color:#231f20;letter-spacing:0.526px;word-spacing:0.921px;transform:scaleX(1.1000);">combinan: primero, que no se</div><div class="t" style="left:620.60px;top:1581.04px;font-family:'Liberation Serif', serif;font-size:18.8px;font-weight:400;color:#231f20;transform:scaleX(1.0962);">conoce lo que hacen, puesto que</div><div class="t" style="left:620.60px;top:1602.38px;font-family:'Liberation Serif', serif;font-size:18.8px;font-weight:400;color:#231f20;letter-spacing:0.124px;word-spacing:0.198px;transform:scaleX(1.1000);">para ello se han creado barreras</div><div class="t" style="left:620.60px;top:1623.71px;font-family:'Liberation Serif', serif;font-size:18.8px;font-weight:400;color:#231f20;letter-spacing:0.056px;word-spacing:0.113px;transform:scaleX(1.1000);">que impiden el trabajo periodís-</div><div class="t" style="left:620.60px;top:1645.05px;font-family:'Liberation Serif', serif;font-size:18.8px;font-weight:400;color:#231f20;letter-spacing:0.353px;word-spacing:0.661px;transform:scaleX(1.1000);">tico más próximo, a diferencia</div><div class="t" style="left:910.60px;top:1154.26px;font-family:'Liberation Serif', serif;font-size:18.8px;font-weight:400;color:#231f20;letter-spacing:0.186px;word-spacing:0.279px;transform:scaleX(1.1000);">de la Cámara de Diputados; se-</div><div class="t" style="left:910.60px;top:1175.60px;font-family:'Liberation Serif', serif;font-size:18.8px;font-weight:400;color:#231f20;letter-spacing:0.172px;word-spacing:0.257px;transform:scaleX(1.1000);">gundo, es probable que la com-</div><div class="t" style="left:910.60px;top:1196.93px;font-family:'Liberation Serif', serif;font-size:18.8px;font-weight:400;color:#231f20;letter-spacing:0.240px;word-spacing:0.320px;transform:scaleX(1.1000);">plejidad de las materias y a ve-</div><div class="t" style="left:910.60px;top:1218.27px;font-family:'Liberation Serif', serif;font-size:18.8px;font-weight:400;color:#231f20;letter-spacing:0.328px;word-spacing:0.424px;transform:scaleX(1.1000);">ces su falta de conexión con la</div><div class="t" style="left:910.60px;top:1239.61px;font-family:'Liberation Serif', serif;font-size:18.8px;font-weight:400;color:#231f20;letter-spacing:0.478px;word-spacing:0.896px;transform:scaleX(1.1000);">vida cotidiana de las personas</div><div class="t" style="left:910.60px;top:1260.95px;font-family:'Liberation Serif', serif;font-size:18.8px;font-weight:400;color:#231f20;letter-spacing:0.552px;word-spacing:1.001px;transform:scaleX(1.1000);">no permita aquilatar de mejor</div><div class="t" style="left:910.60px;top:1282.29px;font-family:'Liberation Serif', serif;font-size:18.8px;font-weight:400;color:#231f20;transform:scaleX(1.0846);">forma lo que se realiza y en con-</div><div class="t" style="left:910.60px;top:1303.63px;font-family:'Liberation Serif', serif;font-size:18.8px;font-weight:400;color:#231f20;letter-spacing:0.547px;word-spacing:0.849px;transform:scaleX(1.1000);">secuencia su valor y, por últi-</div><div class="t" style="left:992.30px;top:1324.97px;font-family:'Liberation Serif', serif;font-size:18.8px;font-weight:400;color:#231f20;letter-spacing:1.372px;word-spacing:1.944px;transform:scaleX(1.1000);">mo, muchas de las</div><div class="t" style="left:992.30px;top:1346.31px;font-family:'Liberation Serif', serif;font-size:18.8px;font-weight:400;color:#231f20;letter-spacing:0.769px;word-spacing:3.651px;transform:scaleX(1.1000);">propuestas derecha-</div><div class="t" style="left:992.30px;top:1367.65px;font-family:'Liberation Serif', serif;font-size:18.8px;font-weight:400;color:#231f20;letter-spacing:0.395px;word-spacing:0.659px;transform:scaleX(1.1000);">mente no son valora-</div><div class="t" style="left:992.30px;top:1388.99px;font-family:'Liberation Serif', serif;font-size:18.8px;font-weight:400;color:#231f20;transform:scaleX(1.1000);">das por las personas”.</div><div class="t" style="left:1011.80px;top:1410.32px;font-family:'Liberation Serif', serif;font-size:18.8px;font-weight:400;color:#231f20;letter-spacing:1.120px;word-spacing:1.493px;transform:scaleX(1.1000);">En cuanto al Go-</div><div class="t" style="left:992.30px;top:1431.66px;font-family:'Liberation Serif', serif;font-size:18.8px;font-weight:400;color:#231f20;letter-spacing:0.137px;word-spacing:0.180px;transform:scaleX(1.1000);">bierno, un 21% de los</div><div class="t" style="left:992.30px;top:1453.00px;font-family:'Liberation Serif', serif;font-size:18.8px;font-weight:400;color:#231f20;letter-spacing:0.920px;word-spacing:2.185px;transform:scaleX(1.1000);">consultados le pon-</div><div class="t" style="left:992.30px;top:1474.34px;font-family:'Liberation Serif', serif;font-size:18.8px;font-weight:400;color:#231f20;letter-spacing:0.093px;word-spacing:0.103px;transform:scaleX(1.1000);">dría un 5 en su primer</div><div class="t" style="left:910.60px;top:1495.68px;font-family:'Liberation Serif', serif;font-size:18.8px;font-weight:400;color:#231f20;transform:scaleX(1.0865);">mes de gestión; un 9% un 7 y un</div><div class="t" style="left:910.60px;top:1517.02px;font-family:'Liberation Serif', serif;font-size:18.8px;font-weight:400;color:#231f20;transform:scaleX(1.1000);">16% un 1.</div><div class="t" style="left:930.10px;top:1602.38px;font-family:'Liberation Serif', serif;font-size:18.8px;font-weight:400;color:#231f20;letter-spacing:0.278px;word-spacing:0.503px;transform:scaleX(1.1000);">Fuera de los temas políticos,</div><div class="t" style="left:910.60px;top:1623.71px;font-family:'Liberation Serif', serif;font-size:18.8px;font-weight:400;color:#231f20;letter-spacing:0.646px;word-spacing:1.508px;transform:scaleX(1.1000);">la encuesta también preguntó</div><div class="t" style="left:910.60px;top:1645.05px;font-family:'Liberation Serif', serif;font-size:18.8px;font-weight:400;color:#231f20;letter-spacing:0.492px;word-spacing:1.230px;transform:scaleX(1.1000);">sobre “el problema prioritario</div><div class="t" style="left:1201.30px;top:1068.90px;font-family:'Liberation Serif', serif;font-size:18.8px;font-weight:400;color:#231f20;letter-spacing:0.423px;word-spacing:1.023px;transform:scaleX(1.1000);">que enfrenta Chile actualmen-</div><div class="t" style="left:1201.30px;top:1090.24px;font-family:'Liberation Serif', serif;font-size:18.8px;font-weight:400;color:#231f20;letter-spacing:0.282px;word-spacing:0.323px;transform:scaleX(1.1000);">te” y, con un 35% del total, los</div><div class="t" style="left:1201.30px;top:1111.58px;font-family:'Liberation Serif', serif;font-size:18.8px;font-weight:400;color:#231f20;letter-spacing:0.108px;word-spacing:0.217px;transform:scaleX(1.1000);">consultados se inclinaron por la</div><div class="t" style="left:1201.30px;top:1132.92px;font-family:'Liberation Serif', serif;font-size:18.8px;font-weight:400;color:#231f20;letter-spacing:0.690px;word-spacing:1.611px;transform:scaleX(1.1000);">delincuencia. En segundo lu-</div><div class="t" style="left:1201.30px;top:1154.26px;font-family:'Liberation Serif', serif;font-size:18.8px;font-weight:400;color:#231f20;transform:scaleX(1.0855);">gar, con un 10%, quedaron la in-</div><div class="t" style="left:1201.30px;top:1175.60px;font-family:'Liberation Serif', serif;font-size:18.8px;font-weight:400;color:#231f20;letter-spacing:1.025px;word-spacing:2.307px;transform:scaleX(1.1000);">migración y la desigualdad,</div><div class="t" style="left:1201.30px;top:1196.93px;font-family:'Liberation Serif', serif;font-size:18.8px;font-weight:400;color:#231f20;letter-spacing:0.069px;word-spacing:0.110px;transform:scaleX(1.1000);">mientras que los sueldos se ubi-</div><div class="t" style="left:1201.30px;top:1218.27px;font-family:'Liberation Serif', serif;font-size:18.8px;font-weight:400;color:#231f20;transform:scaleX(1.0893);">caron en tercer lugar con un 7%.</div><div class="t" style="left:1220.80px;top:1239.61px;font-family:'Liberation Serif', serif;font-size:18.8px;font-weight:400;color:#231f20;letter-spacing:0.223px;word-spacing:0.376px;transform:scaleX(1.1000);">Guzmán explica que “el pro-</div><div class="t" style="left:1201.30px;top:1260.95px;font-family:'Liberation Serif', serif;font-size:18.8px;font-weight:400;color:#231f20;letter-spacing:0.437px;word-spacing:0.792px;transform:scaleX(1.1000);">blema presenta un desafío im-</div><div class="t" style="left:1201.30px;top:1282.29px;font-family:'Liberation Serif', serif;font-size:18.8px;font-weight:400;color:#231f20;letter-spacing:0.112px;word-spacing:0.218px;transform:scaleX(1.1000);">portante al Gobierno pues hasta</div><div class="t" style="left:1201.30px;top:1303.63px;font-family:'Liberation Serif', serif;font-size:18.8px;font-weight:400;color:#231f20;letter-spacing:0.044px;word-spacing:0.070px;transform:scaleX(1.1000);">ahora se ven situaciones de des-</div><div class="t" style="left:1201.30px;top:1324.97px;font-family:'Liberation Serif', serif;font-size:18.8px;font-weight:400;color:#231f20;letter-spacing:0.194px;word-spacing:0.501px;transform:scaleX(1.1000);">orden, delincuencia y violencia</div><div class="t" style="left:1201.30px;top:1346.31px;font-family:'Liberation Serif', serif;font-size:18.8px;font-weight:400;color:#231f20;letter-spacing:0.256px;word-spacing:0.384px;transform:scaleX(1.1000);">de manera continua, y no pare-</div><div class="t" style="left:1201.30px;top:1367.65px;font-family:'Liberation Serif', serif;font-size:18.8px;font-weight:400;color:#231f20;letter-spacing:0.084px;word-spacing:0.112px;transform:scaleX(1.1000);">ce que haya una clara ruptura al</div><div class="t" style="left:1201.30px;top:1388.99px;font-family:'Liberation Serif', serif;font-size:18.8px;font-weight:400;color:#231f20;letter-spacing:0.180px;word-spacing:0.280px;transform:scaleX(1.1000);">respecto con lo que sucedía ha-</div><div class="t" style="left:1201.30px;top:1410.32px;font-family:'Liberation Serif', serif;font-size:18.8px;font-weight:400;color:#231f20;letter-spacing:0.153px;word-spacing:0.191px;transform:scaleX(1.1000);">ce un mes. Sin embargo, aún es</div><div class="t" style="left:1201.30px;top:1431.66px;font-family:'Liberation Serif', serif;font-size:18.8px;font-weight:400;color:#231f20;letter-spacing:0.381px;word-spacing:0.690px;transform:scaleX(1.1000);">prematuro para hacer una eva-</div><div class="t" style="left:1201.30px;top:1453.00px;font-family:'Liberation Serif', serif;font-size:18.8px;font-weight:400;color:#231f20;letter-spacing:0.265px;word-spacing:0.424px;transform:scaleX(1.1000);">luación tajante, lo que no quita</div><div class="t" style="left:1201.30px;top:1474.34px;font-family:'Liberation Serif', serif;font-size:18.8px;font-weight:400;color:#231f20;letter-spacing:0.904px;word-spacing:1.469px;transform:scaleX(1.1000);">que no han ayudado algunas</div><div class="t" style="left:1201.30px;top:1495.68px;font-family:'Liberation Serif', serif;font-size:18.8px;font-weight:400;color:#231f20;letter-spacing:0.257px;word-spacing:0.962px;transform:scaleX(1.1000);">declaraciones algo apresuradas</div><div class="t" style="left:1201.30px;top:1517.02px;font-family:'Liberation Serif', serif;font-size:18.8px;font-weight:400;color:#231f20;transform:scaleX(1.0893);">en el tema de parte de las autori-</div><div class="t" style="left:1201.30px;top:1538.36px;font-family:'Liberation Serif', serif;font-size:18.8px;font-weight:400;color:#231f20;transform:scaleX(1.1000);">dades”.</div><div class="t" style="left:1220.80px;top:1559.70px;font-family:'Liberation Serif', serif;font-size:18.8px;font-weight:400;color:#231f20;letter-spacing:0.060px;word-spacing:0.093px;transform:scaleX(1.1000);">Según la ficha técnica, la tasa</div><div class="t" style="left:1201.30px;top:1581.04px;font-family:'Liberation Serif', serif;font-size:18.8px;font-weight:400;color:#231f20;letter-spacing:0.480px;word-spacing:0.696px;transform:scaleX(1.1000);">de respuesta fue de un 83,5%,</div><div class="t" style="left:1201.30px;top:1602.38px;font-family:'Liberation Serif', serif;font-size:18.8px;font-weight:400;color:#231f20;letter-spacing:0.311px;word-spacing:0.777px;transform:scaleX(1.1000);">correspondiente a 1.002 casos;</div><div class="t" style="left:1201.30px;top:1623.71px;font-family:'Liberation Serif', serif;font-size:18.8px;font-weight:400;color:#231f20;letter-spacing:0.041px;word-spacing:0.045px;transform:scaleX(1.1000);">el margen de error de un 3,1% a</div><div class="t" style="left:1201.30px;top:1645.05px;font-family:'Liberation Serif', serif;font-size:18.8px;font-weight:400;color:#231f20;transform:scaleX(1.1000);">un 95% de nivel de confianza.</div><div class="t" style="left:910.80px;top:1553.00px;font-family:'Liberation Serif', serif;font-size:25.8px;font-weight:400;color:#231f20;-webkit-text-stroke:0.6px #231f20;transform:scaleX(1.1167);">Temas prioritarios</div><div class="t" style="left:833.20px;top:1360.89px;font-family:'Liberation Sans', sans-serif;font-size:26px;font-weight:700;color:#f5843a;-webkit-text-stroke:0.9px #f5843a;transform:scaleX(0.8927);">4 DE JULIO</div><div class="t" style="left:820.45px;top:1387.09px;font-family:'Liberation Sans', sans-serif;font-size:19.5px;font-weight:700;color:#231f20;-webkit-text-stroke:0.4px #231f20;transform:scaleX(0.8756);">Termina su trabajo</div><div class="t" style="left:840.75px;top:1408.89px;font-family:'Liberation Sans', sans-serif;font-size:19.5px;font-weight:700;color:#231f20;-webkit-text-stroke:0.4px #231f20;transform:scaleX(0.8351);">la Convención</div><div class="t" style="left:836.75px;top:1430.19px;font-family:'Liberation Sans', sans-serif;font-size:19.5px;font-weight:700;color:#231f20;-webkit-text-stroke:0.4px #231f20;transform:scaleX(0.8470);">Constitucional.</div><div class="t" style="left:41.90px;top:185.09px;font-family:'Liberation Sans', sans-serif;font-size:34.5px;font-weight:400;color:#2e2e2e;transform:scaleX(0.8726);">Apruebo - rechazo</div><div class="t" style="left:41.00px;top:227.10px;font-family:'Liberation Sans', sans-serif;font-size:15.0px;font-weight:400;color:#231f20;-webkit-text-stroke:0.3px #231f20;transform:scaleX(1.0065);">Con la información que usted tiene hoy, en el plebiscito de salida para la nueva Constitución...</div><div class="t" style="left:362.60px;top:197.10px;font-family:'Liberation Sans', sans-serif;font-size:15.0px;font-weight:400;color:#231f20;-webkit-text-stroke:0.3px #231f20;transform:scaleX(0.9364);">No votaría</div><div class="t" style="left:470.70px;top:197.10px;font-family:'Liberation Sans', sans-serif;font-size:15.0px;font-weight:400;color:#231f20;-webkit-text-stroke:0.3px #231f20;transform:scaleX(0.8770);">No sabe</div><div class="t" style="left:563.20px;top:197.10px;font-family:'Liberation Sans', sans-serif;font-size:15.0px;font-weight:400;color:#231f20;-webkit-text-stroke:0.3px #231f20;transform:scaleX(0.9309);">Apruebo</div><div class="t" style="left:656.90px;top:197.10px;font-family:'Liberation Sans', sans-serif;font-size:15.0px;font-weight:400;color:#231f20;-webkit-text-stroke:0.3px #231f20;transform:scaleX(0.8665);">Rechazo</div><div class="t" style="left:731.00px;top:197.10px;font-family:'Liberation Sans', sans-serif;font-size:15.0px;font-weight:400;color:#231f20;-webkit-text-stroke:0.3px #231f20;transform:scaleX(0.9162);">Cifras en porcentaje (%).</div><div class="t" style="left:40.50px;top:251.31px;font-family:'Liberation Sans', sans-serif;font-size:25.5px;font-weight:700;color:#231f20;transform:scaleX(0.9010);">Por género</div><div class="t" style="left:541.30px;top:251.01px;font-family:'Liberation Sans', sans-serif;font-size:25.5px;font-weight:700;color:#231f20;transform:scaleX(0.9317);">Por rango etario</div><div class="t" style="left:167.07px;top:355.68px;font-family:'Liberation Sans', sans-serif;font-size:17.5px;font-weight:700;color:#231f20;">40</div><div class="t" style="left:78.77px;top:423.58px;font-family:'Liberation Sans', sans-serif;font-size:17.5px;font-weight:700;color:#fff;">39</div><div class="t" style="left:68.07px;top:332.78px;font-family:'Liberation Sans', sans-serif;font-size:17.5px;font-weight:700;color:#fff;">17</div><div class="t" style="left:103.73px;top:285.88px;font-family:'Liberation Sans', sans-serif;font-size:17.5px;font-weight:700;color:#231f20;">4</div><div class="t" style="left:87.10px;top:370.54px;font-family:'Liberation Sans', sans-serif;font-size:18.5px;font-weight:700;color:#231f20;-webkit-text-stroke:0.35px #231f20;transform:scaleX(0.7616);">Masculino</div><div class="t" style="left:322.67px;top:337.78px;font-family:'Liberation Sans', sans-serif;font-size:17.5px;font-weight:700;color:#231f20;">33</div><div class="t" style="left:287.07px;top:431.78px;font-family:'Liberation Sans', sans-serif;font-size:17.5px;font-weight:700;color:#fff;">27</div><div class="t" style="left:214.27px;top:366.58px;font-family:'Liberation Sans', sans-serif;font-size:17.5px;font-weight:700;color:#fff;">32</div><div class="t" style="left:255.83px;top:287.38px;font-family:'Liberation Sans', sans-serif;font-size:17.5px;font-weight:700;color:#231f20;">8</div><div class="t" style="left:251.15px;top:370.54px;font-family:'Liberation Sans', sans-serif;font-size:18.5px;font-weight:700;color:#231f20;-webkit-text-stroke:0.35px #231f20;transform:scaleX(0.7474);">Femenino</div><div class="t" style="left:491.27px;top:347.58px;font-family:'Liberation Sans', sans-serif;font-size:17.5px;font-weight:700;color:#231f20;">36</div><div class="t" style="left:428.67px;top:431.68px;font-family:'Liberation Sans', sans-serif;font-size:17.5px;font-weight:700;color:#fff;">33</div><div class="t" style="left:380.27px;top:352.58px;font-family:'Liberation Sans', sans-serif;font-size:17.5px;font-weight:700;color:#fff;">25</div><div class="t" style="left:424.33px;top:286.38px;font-family:'Liberation Sans', sans-serif;font-size:17.5px;font-weight:700;color:#231f20;">6</div><div class="t" style="left:429.50px;top:370.54px;font-family:'Liberation Sans', sans-serif;font-size:18.5px;font-weight:700;color:#231f20;-webkit-text-stroke:0.35px #231f20;transform:scaleX(0.8079);">Total</div><div class="t" style="left:635.02px;top:292.58px;font-family:'Liberation Sans', sans-serif;font-size:17.5px;font-weight:700;color:#231f20;">26</div><div class="t" style="left:715.95px;top:292.58px;font-family:'Liberation Sans', sans-serif;font-size:17.5px;font-weight:700;color:#fff;">37</div><div class="t" style="left:801.90px;top:292.58px;font-family:'Liberation Sans', sans-serif;font-size:17.5px;font-weight:700;color:#fff;">30</div><div class="t" style="left:873.00px;top:293.43px;font-family:'Liberation Sans', sans-serif;font-size:16.5px;font-weight:700;color:#231f20;transform:scaleX(0.9500);">7</div><div class="t" style="left:540.50px;top:291.51px;font-family:'Liberation Sans', sans-serif;font-size:17px;font-weight:700;color:#231f20;transform:scaleX(1.0992);">18-30</div><div class="t" style="left:651.35px;top:331.38px;font-family:'Liberation Sans', sans-serif;font-size:17.5px;font-weight:700;color:#231f20;">39</div><div class="t" style="left:742.33px;top:331.38px;font-family:'Liberation Sans', sans-serif;font-size:17.5px;font-weight:700;color:#fff;">32</div><div class="t" style="left:816.97px;top:331.38px;font-family:'Liberation Sans', sans-serif;font-size:17.5px;font-weight:700;color:#fff;">26</div><div class="t" style="left:873.00px;top:332.23px;font-family:'Liberation Sans', sans-serif;font-size:16.5px;font-weight:700;color:#231f20;transform:scaleX(0.9500);">3</div><div class="t" style="left:540.50px;top:330.31px;font-family:'Liberation Sans', sans-serif;font-size:17px;font-weight:700;color:#231f20;transform:scaleX(1.0992);">31-40</div><div class="t" style="left:651.35px;top:370.18px;font-family:'Liberation Sans', sans-serif;font-size:17.5px;font-weight:700;color:#231f20;">39</div><div class="t" style="left:739.81px;top:370.18px;font-family:'Liberation Sans', sans-serif;font-size:17.5px;font-weight:700;color:#fff;">30</div><div class="t" style="left:806.93px;top:370.18px;font-family:'Liberation Sans', sans-serif;font-size:17.5px;font-weight:700;color:#fff;">22</div><div class="t" style="left:873.00px;top:371.03px;font-family:'Liberation Sans', sans-serif;font-size:16.5px;font-weight:700;color:#231f20;transform:scaleX(0.9500);">9</div><div class="t" style="left:540.50px;top:369.11px;font-family:'Liberation Sans', sans-serif;font-size:17px;font-weight:700;color:#231f20;transform:scaleX(1.0992);">41-50</div><div class="t" style="left:651.35px;top:408.98px;font-family:'Liberation Sans', sans-serif;font-size:17.5px;font-weight:700;color:#231f20;">39</div><div class="t" style="left:742.33px;top:408.98px;font-family:'Liberation Sans', sans-serif;font-size:17.5px;font-weight:700;color:#fff;">32</div><div class="t" style="left:811.95px;top:408.98px;font-family:'Liberation Sans', sans-serif;font-size:17.5px;font-weight:700;color:#fff;">22</div><div class="t" style="left:873.00px;top:409.83px;font-family:'Liberation Sans', sans-serif;font-size:16.5px;font-weight:700;color:#231f20;transform:scaleX(0.9500);">7</div><div class="t" style="left:540.50px;top:407.91px;font-family:'Liberation Sans', sans-serif;font-size:17px;font-weight:700;color:#231f20;transform:scaleX(1.0992);">51-60</div><div class="t" style="left:652.61px;top:447.78px;font-family:'Liberation Sans', sans-serif;font-size:17.5px;font-weight:700;color:#231f20;">40</div><div class="t" style="left:747.35px;top:447.78px;font-family:'Liberation Sans', sans-serif;font-size:17.5px;font-weight:700;color:#fff;">34</div><div class="t" style="left:819.49px;top:447.78px;font-family:'Liberation Sans', sans-serif;font-size:17.5px;font-weight:700;color:#fff;">22</div><div class="t" style="left:873.00px;top:448.63px;font-family:'Liberation Sans', sans-serif;font-size:16.5px;font-weight:700;color:#231f20;transform:scaleX(0.9500);">4</div><div class="t" style="left:540.50px;top:446.71px;font-family:'Liberation Sans', sans-serif;font-size:17px;font-weight:700;color:#231f20;transform:scaleX(0.9153);">61 ó más</div><div class="t" style="left:933.20px;top:186.04px;font-family:'Liberation Sans', sans-serif;font-size:33.5px;font-weight:400;color:#2e2e2e;transform:scaleX(0.9292);">Nota a los constituyentes</div><div class="t" style="left:1329.60px;top:197.30px;font-family:'Liberation Sans', sans-serif;font-size:15.0px;font-weight:400;color:#231f20;-webkit-text-stroke:0.3px #231f20;transform:scaleX(0.9150);">Cifras en porcentaje (%).</div><div class="t" style="left:934.60px;top:226.90px;font-family:'Liberation Sans', sans-serif;font-size:15.0px;font-weight:400;color:#231f20;-webkit-text-stroke:0.3px #231f20;transform:scaleX(1.0011);">Del 1 al 7, ¿Qué nota le pondría al trabajo de los constituyentes hasta ahora?</div><div class="t" style="left:954.20px;top:254.64px;font-family:'Liberation Sans', sans-serif;font-size:18.5px;font-weight:400;color:#231f20;transform:scaleX(0.9000);">1</div><div class="t" style="left:1021.20px;top:254.64px;font-family:'Liberation Sans', sans-serif;font-size:18.5px;font-weight:400;color:#231f20;transform:scaleX(0.9000);">2</div><div class="t" style="left:1089.20px;top:254.64px;font-family:'Liberation Sans', sans-serif;font-size:18.5px;font-weight:400;color:#231f20;transform:scaleX(0.9000);">3</div><div class="t" style="left:1157.20px;top:254.64px;font-family:'Liberation Sans', sans-serif;font-size:18.5px;font-weight:400;color:#231f20;transform:scaleX(0.9000);">4</div><div class="t" style="left:1224.50px;top:254.64px;font-family:'Liberation Sans', sans-serif;font-size:18.5px;font-weight:400;color:#231f20;transform:scaleX(0.9000);">5</div><div class="t" style="left:1293.10px;top:254.64px;font-family:'Liberation Sans', sans-serif;font-size:18.5px;font-weight:400;color:#231f20;transform:scaleX(0.9000);">6</div><div class="t" style="left:1360.20px;top:254.64px;font-family:'Liberation Sans', sans-serif;font-size:18.5px;font-weight:400;color:#231f20;transform:scaleX(0.9000);">7</div><div class="t" style="left:1021.12px;top:291.68px;font-family:'Liberation Sans', sans-serif;font-size:17.5px;font-weight:700;color:#fff;transform:scaleX(0.9500);">14</div><div class="t" style="left:1065.20px;top:291.68px;font-family:'Liberation Sans', sans-serif;font-size:17.5px;font-weight:700;color:#fff;transform:scaleX(0.9500);">7</div><div class="t" style="left:1095.73px;top:291.68px;font-family:'Liberation Sans', sans-serif;font-size:17.5px;font-weight:700;color:#231f20;transform:scaleX(0.9500);">9</div><div class="t" style="left:1160.88px;top:291.68px;font-family:'Liberation Sans', sans-serif;font-size:17.5px;font-weight:700;color:#231f20;transform:scaleX(0.9500);">29</div><div class="t" style="left:1253.84px;top:291.68px;font-family:'Liberation Sans', sans-serif;font-size:17.5px;font-weight:700;color:#fff;transform:scaleX(0.9500);">22</div><div class="t" style="left:1320.05px;top:291.68px;font-family:'Liberation Sans', sans-serif;font-size:17.5px;font-weight:700;color:#fff;transform:scaleX(0.9500);">14</div><div class="t" style="left:1378.50px;top:292.61px;font-family:'Liberation Sans', sans-serif;font-size:17px;font-weight:700;color:#231f20;transform:scaleX(0.9000);">5</div><div class="t" style="left:930.90px;top:295.44px;font-family:'Liberation Sans', sans-serif;font-size:17.2px;font-weight:700;color:#231f20;transform:scaleX(1.0917);">18-30</div><div class="t" style="left:1042.52px;top:330.28px;font-family:'Liberation Sans', sans-serif;font-size:17.5px;font-weight:700;color:#fff;transform:scaleX(0.9500);">26</div><div class="t" style="left:1108.73px;top:330.28px;font-family:'Liberation Sans', sans-serif;font-size:17.5px;font-weight:700;color:#fff;transform:scaleX(0.9500);">10</div><div class="t" style="left:1148.64px;top:330.28px;font-family:'Liberation Sans', sans-serif;font-size:17.5px;font-weight:700;color:#231f20;transform:scaleX(0.9500);">11</div><div class="t" style="left:1201.90px;top:330.28px;font-family:'Liberation Sans', sans-serif;font-size:17.5px;font-weight:700;color:#231f20;transform:scaleX(0.9500);">18</div><div class="t" style="left:1269.89px;top:330.28px;font-family:'Liberation Sans', sans-serif;font-size:17.5px;font-weight:700;color:#fff;transform:scaleX(0.9500);">19</div><div class="t" style="left:1324.67px;top:330.28px;font-family:'Liberation Sans', sans-serif;font-size:17.5px;font-weight:700;color:#fff;transform:scaleX(0.9500);">8</div><div class="t" style="left:1378.50px;top:331.21px;font-family:'Liberation Sans', sans-serif;font-size:17px;font-weight:700;color:#231f20;transform:scaleX(0.9000);">8</div><div class="t" style="left:930.90px;top:332.44px;font-family:'Liberation Sans', sans-serif;font-size:17.2px;font-weight:700;color:#231f20;transform:scaleX(1.0917);">31-40</div><div class="t" style="left:1042.52px;top:368.18px;font-family:'Liberation Sans', sans-serif;font-size:17.5px;font-weight:700;color:#fff;transform:scaleX(0.9500);">26</div><div class="t" style="left:1111.57px;top:368.18px;font-family:'Liberation Sans', sans-serif;font-size:17.5px;font-weight:700;color:#fff;transform:scaleX(0.9500);">9</div><div class="t" style="left:1153.53px;top:368.18px;font-family:'Liberation Sans', sans-serif;font-size:17.5px;font-weight:700;color:#231f20;transform:scaleX(0.9500);">16</div><div class="t" style="left:1207.25px;top:368.18px;font-family:'Liberation Sans', sans-serif;font-size:17.5px;font-weight:700;color:#231f20;transform:scaleX(0.9500);">13</div><div class="t" style="left:1269.89px;top:368.18px;font-family:'Liberation Sans', sans-serif;font-size:17.5px;font-weight:700;color:#fff;transform:scaleX(0.9500);">21</div><div class="t" style="left:1328.24px;top:368.18px;font-family:'Liberation Sans', sans-serif;font-size:17.5px;font-weight:700;color:#fff;transform:scaleX(0.9500);">8</div><div class="t" style="left:1378.50px;top:369.11px;font-family:'Liberation Sans', sans-serif;font-size:17px;font-weight:700;color:#231f20;transform:scaleX(0.9000);">7</div><div class="t" style="left:930.90px;top:369.84px;font-family:'Liberation Sans', sans-serif;font-size:17.2px;font-weight:700;color:#231f20;transform:scaleX(1.0917);">41-50</div><div class="t" style="left:1022.90px;top:406.98px;font-family:'Liberation Sans', sans-serif;font-size:17.5px;font-weight:700;color:#fff;transform:scaleX(0.9500);">15</div><div class="t" style="left:1069.49px;top:406.98px;font-family:'Liberation Sans', sans-serif;font-size:17.5px;font-weight:700;color:#fff;transform:scaleX(0.9500);">10</div><div class="t" style="left:1117.86px;top:406.98px;font-family:'Liberation Sans', sans-serif;font-size:17.5px;font-weight:700;color:#231f20;transform:scaleX(0.9500);">16</div><div class="t" style="left:1176.94px;top:406.98px;font-family:'Liberation Sans', sans-serif;font-size:17.5px;font-weight:700;color:#231f20;transform:scaleX(0.9500);">16</div><div class="t" style="left:1243.14px;top:406.98px;font-family:'Liberation Sans', sans-serif;font-size:17.5px;font-weight:700;color:#fff;transform:scaleX(0.9500);">20</div><div class="t" style="left:1311.13px;top:406.98px;font-family:'Liberation Sans', sans-serif;font-size:17.5px;font-weight:700;color:#fff;transform:scaleX(0.9500);">17</div><div class="t" style="left:1378.50px;top:407.91px;font-family:'Liberation Sans', sans-serif;font-size:17px;font-weight:700;color:#231f20;transform:scaleX(0.9000);">6</div><div class="t" style="left:930.90px;top:405.94px;font-family:'Liberation Sans', sans-serif;font-size:17.2px;font-weight:700;color:#231f20;transform:scaleX(1.0917);">51-60</div><div class="t" style="left:1021.12px;top:444.88px;font-family:'Liberation Sans', sans-serif;font-size:17.5px;font-weight:700;color:#fff;transform:scaleX(0.9500);">14</div><div class="t" style="left:1066.98px;top:444.88px;font-family:'Liberation Sans', sans-serif;font-size:17.5px;font-weight:700;color:#fff;transform:scaleX(0.9500);">8</div><div class="t" style="left:1112.51px;top:444.88px;font-family:'Liberation Sans', sans-serif;font-size:17.5px;font-weight:700;color:#231f20;transform:scaleX(0.9500);">19</div><div class="t" style="left:1180.50px;top:444.88px;font-family:'Liberation Sans', sans-serif;font-size:17.5px;font-weight:700;color:#231f20;transform:scaleX(0.9500);">18</div><div class="t" style="left:1253.84px;top:444.88px;font-family:'Liberation Sans', sans-serif;font-size:17.5px;font-weight:700;color:#fff;transform:scaleX(0.9500);">22</div><div class="t" style="left:1320.05px;top:444.88px;font-family:'Liberation Sans', sans-serif;font-size:17.5px;font-weight:700;color:#fff;transform:scaleX(0.9500);">14</div><div class="t" style="left:1378.50px;top:445.81px;font-family:'Liberation Sans', sans-serif;font-size:17px;font-weight:700;color:#231f20;transform:scaleX(0.9000);">5</div><div class="t" style="left:930.90px;top:442.14px;font-family:'Liberation Sans', sans-serif;font-size:17.2px;font-weight:700;color:#231f20;transform:scaleX(0.9106);">61 ó más</div><div class="t" style="left:42.90px;top:485.26px;font-family:'Liberation Sans', sans-serif;font-size:33px;font-weight:400;color:#2e2e2e;transform:scaleX(0.9696);">Temas prioritarios</div><div class="t" style="left:326.00px;top:498.43px;font-family:'Liberation Sans', sans-serif;font-size:15.2px;font-weight:400;color:#231f20;-webkit-text-stroke:0.3px #231f20;transform:scaleX(0.9887);">¿Cuál considera que es el problema prioritario que enfrenta Chile actualmente?</div><div class="t" style="left:902.00px;top:498.43px;font-family:'Liberation Sans', sans-serif;font-size:15.2px;font-weight:400;color:#231f20;-webkit-text-stroke:0.3px #231f20;transform:scaleX(0.9048);">Cifras en porcentaje (%).</div><div class="t" style="left:48.00px;top:529.64px;font-family:'Liberation Sans', sans-serif;font-size:17.2px;font-weight:700;color:#231f20;transform:scaleX(0.7905);">Años:</div><div class="t" style="left:120.40px;top:529.64px;font-family:'Liberation Sans', sans-serif;font-size:17.2px;font-weight:700;color:#231f20;transform:scaleX(1.0326);">18-30</div><div class="t" style="left:221.00px;top:529.64px;font-family:'Liberation Sans', sans-serif;font-size:17.2px;font-weight:700;color:#231f20;transform:scaleX(1.0326);">31-40</div><div class="t" style="left:329.60px;top:529.64px;font-family:'Liberation Sans', sans-serif;font-size:17.2px;font-weight:700;color:#231f20;transform:scaleX(1.0326);">41-50</div><div class="t" style="left:443.80px;top:529.64px;font-family:'Liberation Sans', sans-serif;font-size:17.2px;font-weight:700;color:#231f20;transform:scaleX(1.0326);">51-60</div><div class="t" style="left:558.80px;top:529.64px;font-family:'Liberation Sans', sans-serif;font-size:17.2px;font-weight:700;color:#231f20;transform:scaleX(0.8617);">61 ó más</div><div class="t" style="left:47.21px;top:595.02px;font-family:'Liberation Sans', sans-serif;font-size:12.5px;font-weight:700;color:#231f20;transform:scaleX(1.1000);">0</div><div class="t" style="left:60.91px;top:595.02px;font-family:'Liberation Sans', sans-serif;font-size:12.5px;font-weight:700;color:#231f20;transform:scaleX(1.1000);">0</div><div class="t" style="left:74.61px;top:595.02px;font-family:'Liberation Sans', sans-serif;font-size:12.5px;font-weight:700;color:#231f20;transform:scaleX(1.1000);">0</div><div class="t" style="left:88.31px;top:595.02px;font-family:'Liberation Sans', sans-serif;font-size:12.5px;font-weight:700;color:#231f20;transform:scaleX(1.1000);">0</div><div class="t" style="left:102.01px;top:581.74px;font-family:'Liberation Sans', sans-serif;font-size:12.5px;font-weight:700;color:#231f20;transform:scaleX(1.1000);">1</div><div class="t" style="left:47.25px;top:616.12px;font-family:'Liberation Sans', sans-serif;font-size:14.5px;font-weight:400;color:#231f20;-webkit-text-stroke:0.3px #231f20;transform:scaleX(0.9000);">Transporte</div><div class="t" style="left:57.89px;top:630.12px;font-family:'Liberation Sans', sans-serif;font-size:14.5px;font-weight:400;color:#231f20;-webkit-text-stroke:0.3px #231f20;transform:scaleX(0.9000);">público</div><div class="t" style="left:132.68px;top:575.36px;font-family:'Liberation Sans', sans-serif;font-size:12.5px;font-weight:700;color:#231f20;transform:scaleX(1.1000);">2</div><div class="t" style="left:146.38px;top:581.74px;font-family:'Liberation Sans', sans-serif;font-size:12.5px;font-weight:700;color:#231f20;transform:scaleX(1.1000);">1</div><div class="t" style="left:160.08px;top:581.74px;font-family:'Liberation Sans', sans-serif;font-size:12.5px;font-weight:700;color:#231f20;transform:scaleX(1.1000);">1</div><div class="t" style="left:173.78px;top:581.74px;font-family:'Liberation Sans', sans-serif;font-size:12.5px;font-weight:700;color:#231f20;transform:scaleX(1.1000);">1</div><div class="t" style="left:187.48px;top:595.02px;font-family:'Liberation Sans', sans-serif;font-size:12.5px;font-weight:700;color:#231f20;transform:scaleX(1.1000);">0</div><div class="t" style="left:136.11px;top:616.12px;font-family:'Liberation Sans', sans-serif;font-size:14.5px;font-weight:400;color:#231f20;-webkit-text-stroke:0.3px #231f20;transform:scaleX(0.9000);">Derechos</div><div class="t" style="left:136.11px;top:630.12px;font-family:'Liberation Sans', sans-serif;font-size:14.5px;font-weight:400;color:#231f20;-webkit-text-stroke:0.3px #231f20;transform:scaleX(0.9000);">Humanos</div><div class="t" style="left:218.15px;top:575.36px;font-family:'Liberation Sans', sans-serif;font-size:12.5px;font-weight:700;color:#231f20;transform:scaleX(1.1000);">2</div><div class="t" style="left:231.85px;top:581.74px;font-family:'Liberation Sans', sans-serif;font-size:12.5px;font-weight:700;color:#231f20;transform:scaleX(1.1000);">1</div><div class="t" style="left:245.55px;top:575.36px;font-family:'Liberation Sans', sans-serif;font-size:12.5px;font-weight:700;color:#231f20;transform:scaleX(1.1000);">2</div><div class="t" style="left:259.25px;top:595.02px;font-family:'Liberation Sans', sans-serif;font-size:12.5px;font-weight:700;color:#231f20;transform:scaleX(1.1000);">0</div><div class="t" style="left:272.95px;top:581.74px;font-family:'Liberation Sans', sans-serif;font-size:12.5px;font-weight:700;color:#231f20;transform:scaleX(1.1000);">1</div><div class="t" style="left:220.12px;top:616.12px;font-family:'Liberation Sans', sans-serif;font-size:14.5px;font-weight:400;color:#231f20;-webkit-text-stroke:0.3px #231f20;transform:scaleX(0.9000);">Pandemia</div><div class="t" style="left:212.51px;top:630.12px;font-family:'Liberation Sans', sans-serif;font-size:14.5px;font-weight:400;color:#231f20;-webkit-text-stroke:0.3px #231f20;transform:scaleX(0.9000);">por Covid 19</div><div class="t" style="left:303.62px;top:568.98px;font-family:'Liberation Sans', sans-serif;font-size:12.5px;font-weight:700;color:#231f20;transform:scaleX(1.1000);">3</div><div class="t" style="left:317.32px;top:581.74px;font-family:'Liberation Sans', sans-serif;font-size:12.5px;font-weight:700;color:#231f20;transform:scaleX(1.1000);">1</div><div class="t" style="left:331.02px;top:575.36px;font-family:'Liberation Sans', sans-serif;font-size:12.5px;font-weight:700;color:#231f20;transform:scaleX(1.1000);">2</div><div class="t" style="left:344.72px;top:595.02px;font-family:'Liberation Sans', sans-serif;font-size:12.5px;font-weight:700;color:#231f20;transform:scaleX(1.1000);">0</div><div class="t" style="left:358.42px;top:581.74px;font-family:'Liberation Sans', sans-serif;font-size:12.5px;font-weight:700;color:#231f20;transform:scaleX(1.1000);">1</div><div class="t" style="left:317.20px;top:616.12px;font-family:'Liberation Sans', sans-serif;font-size:14.5px;font-weight:400;color:#231f20;-webkit-text-stroke:0.3px #231f20;transform:scaleX(0.9000);">Medio</div><div class="t" style="left:308.13px;top:630.12px;font-family:'Liberation Sans', sans-serif;font-size:14.5px;font-weight:400;color:#231f20;-webkit-text-stroke:0.3px #231f20;transform:scaleX(0.9000);">ambiente</div><div class="t" style="left:389.09px;top:568.98px;font-family:'Liberation Sans', sans-serif;font-size:12.5px;font-weight:700;color:#231f20;transform:scaleX(1.1000);">3</div><div class="t" style="left:402.79px;top:575.36px;font-family:'Liberation Sans', sans-serif;font-size:12.5px;font-weight:700;color:#231f20;transform:scaleX(1.1000);">2</div><div class="t" style="left:416.49px;top:575.36px;font-family:'Liberation Sans', sans-serif;font-size:12.5px;font-weight:700;color:#231f20;transform:scaleX(1.1000);">2</div><div class="t" style="left:430.19px;top:581.74px;font-family:'Liberation Sans', sans-serif;font-size:12.5px;font-weight:700;color:#231f20;transform:scaleX(1.1000);">1</div><div class="t" style="left:443.89px;top:595.02px;font-family:'Liberation Sans', sans-serif;font-size:12.5px;font-weight:700;color:#231f20;transform:scaleX(1.1000);">0</div><div class="t" style="left:389.97px;top:623.12px;font-family:'Liberation Sans', sans-serif;font-size:14.5px;font-weight:400;color:#231f20;-webkit-text-stroke:0.3px #231f20;transform:scaleX(0.9000);">Educación</div><div class="t" style="left:474.56px;top:575.36px;font-family:'Liberation Sans', sans-serif;font-size:12.5px;font-weight:700;color:#231f20;transform:scaleX(1.1000);">2</div><div class="t" style="left:488.26px;top:575.36px;font-family:'Liberation Sans', sans-serif;font-size:12.5px;font-weight:700;color:#231f20;transform:scaleX(1.1000);">2</div><div class="t" style="left:501.96px;top:575.36px;font-family:'Liberation Sans', sans-serif;font-size:12.5px;font-weight:700;color:#231f20;transform:scaleX(1.1000);">2</div><div class="t" style="left:515.66px;top:568.98px;font-family:'Liberation Sans', sans-serif;font-size:12.5px;font-weight:700;color:#231f20;transform:scaleX(1.1000);">3</div><div class="t" style="left:529.36px;top:568.98px;font-family:'Liberation Sans', sans-serif;font-size:12.5px;font-weight:700;color:#231f20;transform:scaleX(1.1000);">3</div><div class="t" style="left:483.79px;top:623.12px;font-family:'Liberation Sans', sans-serif;font-size:14.5px;font-weight:400;color:#231f20;-webkit-text-stroke:0.3px #231f20;transform:scaleX(0.9000);">Empleo</div><div class="t" style="left:560.03px;top:562.60px;font-family:'Liberation Sans', sans-serif;font-size:12.5px;font-weight:700;color:#231f20;transform:scaleX(1.1000);">4</div><div class="t" style="left:573.73px;top:575.36px;font-family:'Liberation Sans', sans-serif;font-size:12.5px;font-weight:700;color:#231f20;transform:scaleX(1.1000);">2</div><div class="t" style="left:587.43px;top:575.36px;font-family:'Liberation Sans', sans-serif;font-size:12.5px;font-weight:700;color:#231f20;transform:scaleX(1.1000);">2</div><div class="t" style="left:601.13px;top:562.60px;font-family:'Liberation Sans', sans-serif;font-size:12.5px;font-weight:700;color:#231f20;transform:scaleX(1.1000);">4</div><div class="t" style="left:614.83px;top:581.74px;font-family:'Liberation Sans', sans-serif;font-size:12.5px;font-weight:700;color:#231f20;transform:scaleX(1.1000);">1</div><div class="t" style="left:574.69px;top:623.12px;font-family:'Liberation Sans', sans-serif;font-size:14.5px;font-weight:400;color:#231f20;-webkit-text-stroke:0.3px #231f20;transform:scaleX(0.9000);">Salud</div><div class="t" style="left:645.50px;top:568.98px;font-family:'Liberation Sans', sans-serif;font-size:12.5px;font-weight:700;color:#231f20;transform:scaleX(1.1000);">3</div><div class="t" style="left:659.20px;top:575.36px;font-family:'Liberation Sans', sans-serif;font-size:12.5px;font-weight:700;color:#231f20;transform:scaleX(1.1000);">2</div><div class="t" style="left:672.90px;top:575.36px;font-family:'Liberation Sans', sans-serif;font-size:12.5px;font-weight:700;color:#231f20;transform:scaleX(1.1000);">2</div><div class="t" style="left:686.60px;top:568.98px;font-family:'Liberation Sans', sans-serif;font-size:12.5px;font-weight:700;color:#231f20;transform:scaleX(1.1000);">3</div><div class="t" style="left:700.30px;top:575.36px;font-family:'Liberation Sans', sans-serif;font-size:12.5px;font-weight:700;color:#231f20;transform:scaleX(1.1000);">2</div><div class="t" style="left:651.94px;top:623.12px;font-family:'Liberation Sans', sans-serif;font-size:14.5px;font-weight:400;color:#231f20;-webkit-text-stroke:0.3px #231f20;transform:scaleX(0.9000);">Vivienda</div><div class="t" style="left:730.97px;top:575.36px;font-family:'Liberation Sans', sans-serif;font-size:12.5px;font-weight:700;color:#231f20;transform:scaleX(1.1000);">2</div><div class="t" style="left:744.67px;top:562.60px;font-family:'Liberation Sans', sans-serif;font-size:12.5px;font-weight:700;color:#231f20;transform:scaleX(1.1000);">4</div><div class="t" style="left:758.37px;top:568.98px;font-family:'Liberation Sans', sans-serif;font-size:12.5px;font-weight:700;color:#231f20;transform:scaleX(1.1000);">3</div><div class="t" style="left:772.07px;top:556.22px;font-family:'Liberation Sans', sans-serif;font-size:12.5px;font-weight:700;color:#231f20;transform:scaleX(1.1000);">5</div><div class="t" style="left:781.94px;top:524.32px;font-family:'Liberation Sans', sans-serif;font-size:12.5px;font-weight:700;color:#231f20;transform:scaleX(1.1000);">10</div><div class="t" style="left:731.85px;top:623.12px;font-family:'Liberation Sans', sans-serif;font-size:14.5px;font-weight:400;color:#231f20;-webkit-text-stroke:0.3px #231f20;transform:scaleX(0.9000);">Pensiones</div><div class="t" style="left:816.44px;top:556.22px;font-family:'Liberation Sans', sans-serif;font-size:12.5px;font-weight:700;color:#231f20;transform:scaleX(1.1000);">5</div><div class="t" style="left:830.14px;top:556.22px;font-family:'Liberation Sans', sans-serif;font-size:12.5px;font-weight:700;color:#231f20;transform:scaleX(1.1000);">5</div><div class="t" style="left:843.84px;top:568.98px;font-family:'Liberation Sans', sans-serif;font-size:12.5px;font-weight:700;color:#231f20;transform:scaleX(1.1000);">3</div><div class="t" style="left:857.54px;top:549.84px;font-family:'Liberation Sans', sans-serif;font-size:12.5px;font-weight:700;color:#231f20;transform:scaleX(1.1000);">6</div><div class="t" style="left:871.24px;top:568.98px;font-family:'Liberation Sans', sans-serif;font-size:12.5px;font-weight:700;color:#231f20;transform:scaleX(1.1000);">3</div><div class="t" style="left:815.88px;top:623.12px;font-family:'Liberation Sans', sans-serif;font-size:14.5px;font-weight:400;color:#231f20;-webkit-text-stroke:0.3px #231f20;transform:scaleX(0.9000);">Corrupción</div><div class="t" style="left:901.91px;top:575.36px;font-family:'Liberation Sans', sans-serif;font-size:12.5px;font-weight:700;color:#231f20;transform:scaleX(1.1000);">2</div><div class="t" style="left:915.61px;top:549.84px;font-family:'Liberation Sans', sans-serif;font-size:12.5px;font-weight:700;color:#231f20;transform:scaleX(1.1000);">6</div><div class="t" style="left:929.31px;top:549.84px;font-family:'Liberation Sans', sans-serif;font-size:12.5px;font-weight:700;color:#231f20;transform:scaleX(1.1000);">6</div><div class="t" style="left:943.01px;top:562.60px;font-family:'Liberation Sans', sans-serif;font-size:12.5px;font-weight:700;color:#231f20;transform:scaleX(1.1000);">4</div><div class="t" style="left:956.71px;top:549.84px;font-family:'Liberation Sans', sans-serif;font-size:12.5px;font-weight:700;color:#231f20;transform:scaleX(1.1000);">6</div><div class="t" style="left:920.57px;top:623.12px;font-family:'Liberation Sans', sans-serif;font-size:14.5px;font-weight:400;color:#231f20;-webkit-text-stroke:0.3px #231f20;transform:scaleX(0.9000);">Otro</div><div class="t" style="left:987.38px;top:537.08px;font-family:'Liberation Sans', sans-serif;font-size:12.5px;font-weight:700;color:#231f20;transform:scaleX(1.1000);">8</div><div class="t" style="left:1001.08px;top:556.22px;font-family:'Liberation Sans', sans-serif;font-size:12.5px;font-weight:700;color:#231f20;transform:scaleX(1.1000);">5</div><div class="t" style="left:1014.78px;top:549.84px;font-family:'Liberation Sans', sans-serif;font-size:12.5px;font-weight:700;color:#231f20;transform:scaleX(1.1000);">6</div><div class="t" style="left:1028.48px;top:568.98px;font-family:'Liberation Sans', sans-serif;font-size:12.5px;font-weight:700;color:#231f20;transform:scaleX(1.1000);">3</div><div class="t" style="left:1042.18px;top:575.36px;font-family:'Liberation Sans', sans-serif;font-size:12.5px;font-weight:700;color:#231f20;transform:scaleX(1.1000);">2</div><div class="t" style="left:994.43px;top:623.12px;font-family:'Liberation Sans', sans-serif;font-size:14.5px;font-weight:400;color:#231f20;-webkit-text-stroke:0.3px #231f20;transform:scaleX(0.9000);">Pobreza</div><div class="t" style="left:1071.85px;top:575.36px;font-family:'Liberation Sans', sans-serif;font-size:12.5px;font-weight:700;color:#231f20;transform:scaleX(1.1000);">2</div><div class="t" style="left:1084.85px;top:562.60px;font-family:'Liberation Sans', sans-serif;font-size:12.5px;font-weight:700;color:#231f20;transform:scaleX(1.1000);">4</div><div class="t" style="left:1098.85px;top:533.00px;font-family:'Liberation Sans', sans-serif;font-size:12.5px;font-weight:700;color:#231f20;transform:scaleX(1.1000);">9</div><div class="t" style="left:1108.62px;top:524.32px;font-family:'Liberation Sans', sans-serif;font-size:12.5px;font-weight:700;color:#231f20;transform:scaleX(1.1000);">10</div><div class="t" style="left:1125.82px;top:511.56px;font-family:'Liberation Sans', sans-serif;font-size:12.5px;font-weight:700;color:#231f20;transform:scaleX(1.1000);">12</div><div class="t" style="left:1069.03px;top:623.12px;font-family:'Liberation Sans', sans-serif;font-size:14.5px;font-weight:400;color:#231f20;-webkit-text-stroke:0.3px #231f20;transform:scaleX(0.9000);">Narcotráfico</div><div class="t" style="left:1152.67px;top:516.24px;font-family:'Liberation Sans', sans-serif;font-size:12.5px;font-weight:700;color:#231f20;transform:scaleX(1.1000);">11</div><div class="t" style="left:1171.19px;top:526.82px;font-family:'Liberation Sans', sans-serif;font-size:12.5px;font-weight:700;color:#231f20;transform:scaleX(1.1000);">10</div><div class="t" style="left:1185.72px;top:557.62px;font-family:'Liberation Sans', sans-serif;font-size:12.5px;font-weight:700;color:#231f20;transform:scaleX(1.1000);">5</div><div class="t" style="left:1199.42px;top:537.08px;font-family:'Liberation Sans', sans-serif;font-size:12.5px;font-weight:700;color:#231f20;transform:scaleX(1.1000);">8</div><div class="t" style="left:1213.12px;top:595.02px;font-family:'Liberation Sans', sans-serif;font-size:12.5px;font-weight:700;color:#231f20;transform:scaleX(1.1000);">0</div><div class="t" style="left:1166.09px;top:623.12px;font-family:'Liberation Sans', sans-serif;font-size:14.5px;font-weight:400;color:#231f20;-webkit-text-stroke:0.3px #231f20;transform:scaleX(0.9000);">Sueldos</div><div class="t" style="left:1236.56px;top:505.18px;font-family:'Liberation Sans', sans-serif;font-size:12.5px;font-weight:700;color:#231f20;transform:scaleX(1.1000);">13</div><div class="t" style="left:1256.26px;top:505.18px;font-family:'Liberation Sans', sans-serif;font-size:12.5px;font-weight:700;color:#231f20;transform:scaleX(1.1000);">13</div><div class="t" style="left:1272.66px;top:525.32px;font-family:'Liberation Sans', sans-serif;font-size:12.5px;font-weight:700;color:#231f20;transform:scaleX(1.1000);">10</div><div class="t" style="left:1285.89px;top:556.22px;font-family:'Liberation Sans', sans-serif;font-size:12.5px;font-weight:700;color:#231f20;transform:scaleX(1.1000);">5</div><div class="t" style="left:1300.19px;top:556.22px;font-family:'Liberation Sans', sans-serif;font-size:12.5px;font-weight:700;color:#231f20;transform:scaleX(1.1000);">5</div><div class="t" style="left:1238.86px;top:623.12px;font-family:'Liberation Sans', sans-serif;font-size:14.5px;font-weight:400;color:#231f20;-webkit-text-stroke:0.3px #231f20;transform:scaleX(0.9000);">Desigualdad</div><div class="t" style="left:1321.71px;top:517.94px;font-family:'Liberation Sans', sans-serif;font-size:12.5px;font-weight:700;color:#231f20;transform:scaleX(1.1000);">11</div><div class="t" style="left:1340.63px;top:525.52px;font-family:'Liberation Sans', sans-serif;font-size:12.5px;font-weight:700;color:#231f20;transform:scaleX(1.1000);">10</div><div class="t" style="left:1358.33px;top:525.52px;font-family:'Liberation Sans', sans-serif;font-size:12.5px;font-weight:700;color:#231f20;transform:scaleX(1.1000);">10</div><div class="t" style="left:1376.16px;top:533.00px;font-family:'Liberation Sans', sans-serif;font-size:12.5px;font-weight:700;color:#231f20;transform:scaleX(1.1000);">9</div><div class="t" style="left:1388.06px;top:539.08px;font-family:'Liberation Sans', sans-serif;font-size:12.5px;font-weight:700;color:#231f20;transform:scaleX(1.1000);">8</div><div class="t" style="left:1326.89px;top:623.12px;font-family:'Liberation Sans', sans-serif;font-size:14.5px;font-weight:400;color:#231f20;-webkit-text-stroke:0.3px #231f20;transform:scaleX(0.9000);">Inmigración</div><div class="t" style="left:1406.30px;top:415.86px;font-family:'Liberation Sans', sans-serif;font-size:12.5px;font-weight:700;color:#231f20;transform:scaleX(1.1000);">27</div><div class="t" style="left:1418.70px;top:383.96px;font-family:'Liberation Sans', sans-serif;font-size:12.5px;font-weight:700;color:#231f20;transform:scaleX(1.1000);">32</div><div class="t" style="left:1434.10px;top:363.42px;font-family:'Liberation Sans', sans-serif;font-size:12.5px;font-weight:700;color:#231f20;transform:scaleX(1.1000);">35</div><div class="t" style="left:1448.90px;top:346.38px;font-family:'Liberation Sans', sans-serif;font-size:12.5px;font-weight:700;color:#231f20;transform:scaleX(1.1000);">38</div><div class="t" style="left:1465.00px;top:300.32px;font-family:'Liberation Sans', sans-serif;font-size:12.5px;font-weight:700;color:#231f20;transform:scaleX(1.1000);">45</div><div class="t" style="left:1408.72px;top:623.12px;font-family:'Liberation Sans', sans-serif;font-size:14.5px;font-weight:400;color:#231f20;-webkit-text-stroke:0.3px #231f20;transform:scaleX(0.9000);">Delincuencia</div><div class="t" style="left:41.20px;top:669.21px;font-family:'Liberation Sans', sans-serif;font-size:13.1px;font-weight:700;color:#231f20;transform:scaleX(0.8783);">Fuente</div><div class="t" style="left:85.90px;top:669.21px;font-family:'Liberation Sans', sans-serif;font-size:13.1px;font-weight:400;color:#231f20;transform:scaleX(0.8689);">Panel Ciudadano</div><div class="t" style="left:1414.70px;top:669.21px;font-family:'Liberation Sans', sans-serif;font-size:13.1px;font-weight:400;color:#231f20;-webkit-text-stroke:0.3px #231f20;transform:scaleX(0.7152);">EL MERCURIO</div>
</body></html>
